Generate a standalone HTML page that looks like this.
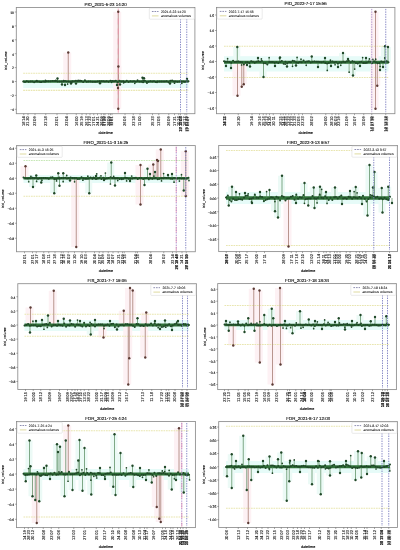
<!DOCTYPE html><html><head><meta charset="utf-8"><style>html,body{margin:0;padding:0;background:#fff;}svg{display:block;will-change:transform;filter:blur(0.3px);}text{text-rendering:geometricPrecision;}</style></head><body>
<svg width="400" height="550" viewBox="0 0 400 550" font-family='"Liberation Sans", sans-serif'>
<rect width="400" height="550" fill="#fff"/>
<g><rect x="23.2" y="80" width="165.3" height="8" fill="#e6fbf8"/><rect x="63.25" y="52.5" width="8" height="29" fill="#fdf1f4"/><rect x="113.25" y="11.75" width="8" height="69.75" fill="#fdf1f4"/><rect x="113.25" y="81.5" width="8" height="27.25" fill="#fdf1f4"/><rect x="113.4" y="66.5" width="8" height="15" fill="#fdf1f4"/><rect x="113" y="81.5" width="8" height="6.5" fill="#fdf1f4"/><line x1="23.2" y1="73.2" x2="188.5" y2="73.2" stroke="#e9e6b0" stroke-width="1.1" stroke-dasharray="1.7,0.8"/><line x1="23.2" y1="90.4" x2="188.5" y2="90.4" stroke="#e9e6b0" stroke-width="1.1" stroke-dasharray="1.7,0.8"/><line x1="68.25" y1="81.5" x2="68.25" y2="52.5" stroke="#b08a82" stroke-width="0.9"/><line x1="118.25" y1="81.5" x2="118.25" y2="11.75" stroke="#b08a82" stroke-width="0.9"/><line x1="118.25" y1="81.5" x2="118.25" y2="108.75" stroke="#b08a82" stroke-width="0.9"/><line x1="118.4" y1="81.5" x2="118.4" y2="66.5" stroke="#b08a82" stroke-width="0.9"/><line x1="118" y1="81.5" x2="118" y2="88" stroke="#b08a82" stroke-width="0.9"/><line x1="57.5" y1="81.5" x2="57.5" y2="78.5" stroke="#4f8456" stroke-width="0.7"/><line x1="142.5" y1="81.5" x2="142.5" y2="77.8" stroke="#4f8456" stroke-width="0.7"/><line x1="144" y1="81.5" x2="144" y2="78.2" stroke="#4f8456" stroke-width="0.7"/><line x1="62" y1="81.5" x2="62" y2="84.5" stroke="#4f8456" stroke-width="0.7"/><line x1="65" y1="81.5" x2="65" y2="85" stroke="#4f8456" stroke-width="0.7"/><line x1="71" y1="81.5" x2="71" y2="83.5" stroke="#4f8456" stroke-width="0.7"/><line x1="76" y1="81.5" x2="76" y2="83.6" stroke="#4f8456" stroke-width="0.7"/><line x1="100" y1="81.5" x2="100" y2="83.3" stroke="#4f8456" stroke-width="0.7"/><line x1="117" y1="81.5" x2="117" y2="85" stroke="#4f8456" stroke-width="0.7"/><line x1="120" y1="81.5" x2="120" y2="84.5" stroke="#4f8456" stroke-width="0.7"/><line x1="170" y1="81.5" x2="170" y2="83.5" stroke="#4f8456" stroke-width="0.7"/><line x1="187" y1="81.5" x2="187" y2="79" stroke="#4f8456" stroke-width="0.7"/><line x1="118.25" y1="8.5" x2="118.25" y2="112.7" stroke="#f58aa8" stroke-width="0.7" stroke-dasharray="6,4"/><line x1="23.2" y1="81.5" x2="188.5" y2="81.5" stroke="#2f7138" stroke-width="2.4"/><polyline fill="none" stroke="#2f7138" stroke-width="0.9" stroke-linejoin="round" points="23.2,81.53 25.02,81.94 26.83,81.17 28.65,81.85 30.47,81.41 32.28,81.41 34.1,82.16 35.92,81.56 37.73,81.48 39.55,81.76 41.36,81.89 43.18,81.49 45,81.71 46.81,81.16 48.63,81.37 50.45,81.35 52.26,81.03 54.08,80.97 55.9,80.93 57.71,81.42 59.53,81.44 61.35,81.39 63.16,81.52 64.98,81.03 66.8,81.47 68.61,81.58 70.43,81.76 72.25,81.2 74.06,81.36 75.88,80.79 77.69,81.32 79.51,80.73 81.33,81 83.14,81.89 84.96,80.73 86.78,81.78 88.59,81.61 90.41,81.39 92.23,81.66 94.04,81.68 95.86,81.87 97.68,81.42 99.49,81.29 101.31,81.29 103.13,81.15 104.94,81.48 106.76,81.22 108.57,81.87 110.39,80.85 112.21,81.12 114.02,81.17 115.84,80.77 117.66,82.17 119.47,80.66 121.29,81.4 123.11,81.32 124.92,82.08 126.74,80.81 128.56,81.88 130.37,81.24 132.19,81.45 134.01,81.27 135.82,81.72 137.64,81.1 139.45,81.47 141.27,81.62 143.09,82.14 144.9,80.66 146.72,82.03 148.54,81.83 150.35,81.33 152.17,81.61 153.99,81.34 155.8,82.08 157.62,81.57 159.44,81.42 161.25,81.42 163.07,81.43 164.89,81.44 166.7,81.19 168.52,82.22 170.34,80.83 172.15,80.59 173.97,81.46 175.78,81.45 177.6,81.63 179.42,81.43 181.23,81.45 183.05,81.62 184.87,81.84 186.68,81.34 188.5,81.37"/><path d="M36.79 81.5V80.7M40.87 81.5V82.27M45.45 81.5V80.44M55.69 81.5V80.44M63.52 81.5V80.63M67.61 81.5V84.12M71.8 81.5V82.53M78.2 81.5V80.44M80.44 81.5V80.56M84.95 81.5V80.03M111.58 81.5V82.36M123.66 81.5V82.78M134.79 81.5V83.28M137.54 81.5V80.08M143.24 81.5V80.55M146.99 81.5V83.14M157.01 81.5V82.29M174.51 81.5V83.19M181.81 81.5V83.29" stroke="#4f8456" stroke-width="0.6" fill="none"/><g fill="#1f4727"><circle cx="23.2" cy="81.53" r="1"/><circle cx="25.02" cy="81.94" r="1"/><circle cx="26.83" cy="81.17" r="1"/><circle cx="28.65" cy="81.85" r="1"/><circle cx="30.47" cy="81.41" r="1"/><circle cx="32.28" cy="81.41" r="1"/><circle cx="34.1" cy="82.16" r="1"/><circle cx="35.92" cy="81.56" r="1"/><circle cx="37.73" cy="81.48" r="1"/><circle cx="39.55" cy="81.76" r="1"/><circle cx="41.36" cy="81.89" r="1"/><circle cx="43.18" cy="81.49" r="1"/><circle cx="45" cy="81.71" r="1"/><circle cx="46.81" cy="81.16" r="1"/><circle cx="48.63" cy="81.37" r="1"/><circle cx="50.45" cy="81.35" r="1"/><circle cx="52.26" cy="81.03" r="1"/><circle cx="54.08" cy="80.97" r="1"/><circle cx="55.9" cy="80.93" r="1"/><circle cx="57.71" cy="81.42" r="1"/><circle cx="59.53" cy="81.44" r="1"/><circle cx="61.35" cy="81.39" r="1"/><circle cx="63.16" cy="81.52" r="1"/><circle cx="64.98" cy="81.03" r="1"/><circle cx="66.8" cy="81.47" r="1"/><circle cx="68.61" cy="81.58" r="1"/><circle cx="70.43" cy="81.76" r="1"/><circle cx="72.25" cy="81.2" r="1"/><circle cx="74.06" cy="81.36" r="1"/><circle cx="75.88" cy="80.79" r="1"/><circle cx="77.69" cy="81.32" r="1"/><circle cx="79.51" cy="80.73" r="1"/><circle cx="81.33" cy="81" r="1"/><circle cx="83.14" cy="81.89" r="1"/><circle cx="84.96" cy="80.73" r="1"/><circle cx="86.78" cy="81.78" r="1"/><circle cx="88.59" cy="81.61" r="1"/><circle cx="90.41" cy="81.39" r="1"/><circle cx="92.23" cy="81.66" r="1"/><circle cx="94.04" cy="81.68" r="1"/><circle cx="95.86" cy="81.87" r="1"/><circle cx="97.68" cy="81.42" r="1"/><circle cx="99.49" cy="81.29" r="1"/><circle cx="101.31" cy="81.29" r="1"/><circle cx="103.13" cy="81.15" r="1"/><circle cx="104.94" cy="81.48" r="1"/><circle cx="106.76" cy="81.22" r="1"/><circle cx="108.57" cy="81.87" r="1"/><circle cx="110.39" cy="80.85" r="1"/><circle cx="112.21" cy="81.12" r="1"/><circle cx="114.02" cy="81.17" r="1"/><circle cx="115.84" cy="80.77" r="1"/><circle cx="117.66" cy="82.17" r="1"/><circle cx="119.47" cy="80.66" r="1"/><circle cx="121.29" cy="81.4" r="1"/><circle cx="123.11" cy="81.32" r="1"/><circle cx="124.92" cy="82.08" r="1"/><circle cx="126.74" cy="80.81" r="1"/><circle cx="128.56" cy="81.88" r="1"/><circle cx="130.37" cy="81.24" r="1"/><circle cx="132.19" cy="81.45" r="1"/><circle cx="134.01" cy="81.27" r="1"/><circle cx="135.82" cy="81.72" r="1"/><circle cx="137.64" cy="81.1" r="1"/><circle cx="139.45" cy="81.47" r="1"/><circle cx="141.27" cy="81.62" r="1"/><circle cx="143.09" cy="82.14" r="1"/><circle cx="144.9" cy="80.66" r="1"/><circle cx="146.72" cy="82.03" r="1"/><circle cx="148.54" cy="81.83" r="1"/><circle cx="150.35" cy="81.33" r="1"/><circle cx="152.17" cy="81.61" r="1"/><circle cx="153.99" cy="81.34" r="1"/><circle cx="155.8" cy="82.08" r="1"/><circle cx="157.62" cy="81.57" r="1"/><circle cx="159.44" cy="81.42" r="1"/><circle cx="161.25" cy="81.42" r="1"/><circle cx="163.07" cy="81.43" r="1"/><circle cx="164.89" cy="81.44" r="1"/><circle cx="166.7" cy="81.19" r="1"/><circle cx="168.52" cy="82.22" r="1"/><circle cx="170.34" cy="80.83" r="1"/><circle cx="172.15" cy="80.59" r="1"/><circle cx="173.97" cy="81.46" r="1"/><circle cx="175.78" cy="81.45" r="1"/><circle cx="177.6" cy="81.63" r="1"/><circle cx="179.42" cy="81.43" r="1"/><circle cx="181.23" cy="81.45" r="1"/><circle cx="183.05" cy="81.62" r="1"/><circle cx="184.87" cy="81.84" r="1"/><circle cx="186.68" cy="81.34" r="1"/><circle cx="188.5" cy="81.37" r="1"/><circle cx="36.79" cy="80.7" r="0.85"/><circle cx="40.87" cy="82.27" r="0.85"/><circle cx="45.45" cy="80.44" r="0.85"/><circle cx="55.69" cy="80.44" r="0.85"/><circle cx="63.52" cy="80.63" r="0.85"/><circle cx="67.61" cy="84.12" r="0.85"/><circle cx="71.8" cy="82.53" r="0.85"/><circle cx="78.2" cy="80.44" r="0.85"/><circle cx="80.44" cy="80.56" r="0.85"/><circle cx="84.95" cy="80.03" r="0.85"/><circle cx="111.58" cy="82.36" r="0.85"/><circle cx="123.66" cy="82.78" r="0.85"/><circle cx="134.79" cy="83.28" r="0.85"/><circle cx="137.54" cy="80.08" r="0.85"/><circle cx="143.24" cy="80.55" r="0.85"/><circle cx="146.99" cy="83.14" r="0.85"/><circle cx="157.01" cy="82.29" r="0.85"/><circle cx="174.51" cy="83.19" r="0.85"/><circle cx="181.81" cy="83.29" r="0.85"/></g><circle cx="68.25" cy="52.5" r="1.2" fill="#5b3a34"/><circle cx="118.25" cy="11.75" r="1.2" fill="#5b3a34"/><circle cx="118.25" cy="108.75" r="1.2" fill="#5b3a34"/><circle cx="118.4" cy="66.5" r="1.2" fill="#5b3a34"/><circle cx="118" cy="88" r="1.2" fill="#5b3a34"/><circle cx="57.5" cy="78.5" r="1.2" fill="#1f4727"/><circle cx="142.5" cy="77.8" r="1.2" fill="#1f4727"/><circle cx="144" cy="78.2" r="1.2" fill="#1f4727"/><circle cx="62" cy="84.5" r="1.2" fill="#1f4727"/><circle cx="65" cy="85" r="1.2" fill="#1f4727"/><circle cx="71" cy="83.5" r="1.2" fill="#1f4727"/><circle cx="76" cy="83.6" r="1.2" fill="#1f4727"/><circle cx="100" cy="83.3" r="1.2" fill="#1f4727"/><circle cx="117" cy="85" r="1.2" fill="#1f4727"/><circle cx="120" cy="84.5" r="1.2" fill="#1f4727"/><circle cx="170" cy="83.5" r="1.2" fill="#1f4727"/><circle cx="187" cy="79" r="1.2" fill="#1f4727"/><line x1="180.5" y1="9" x2="180.5" y2="112.2" stroke="#7a7dc0" stroke-width="0.9" stroke-dasharray="1.4,1.1"/><line x1="186.75" y1="9" x2="186.75" y2="112.2" stroke="#7a7dc0" stroke-width="0.9" stroke-dasharray="1.4,1.1"/><rect x="16.3" y="7.5" width="178.6" height="106.2" fill="none" stroke="#8c8c8c" stroke-width="0.85"/><line x1="14.8" y1="12" x2="16.3" y2="12" stroke="#555" stroke-width="0.5"/><text x="14" y="13.8" font-size="3.4" text-anchor="end" fill="#000" stroke="#000" stroke-width="0.12">10</text><line x1="14.8" y1="25.9" x2="16.3" y2="25.9" stroke="#555" stroke-width="0.5"/><text x="14" y="27.7" font-size="3.4" text-anchor="end" fill="#000" stroke="#000" stroke-width="0.12">8</text><line x1="14.8" y1="39.8" x2="16.3" y2="39.8" stroke="#555" stroke-width="0.5"/><text x="14" y="41.6" font-size="3.4" text-anchor="end" fill="#000" stroke="#000" stroke-width="0.12">6</text><line x1="14.8" y1="53.7" x2="16.3" y2="53.7" stroke="#555" stroke-width="0.5"/><text x="14" y="55.5" font-size="3.4" text-anchor="end" fill="#000" stroke="#000" stroke-width="0.12">4</text><line x1="14.8" y1="67.6" x2="16.3" y2="67.6" stroke="#555" stroke-width="0.5"/><text x="14" y="69.4" font-size="3.4" text-anchor="end" fill="#000" stroke="#000" stroke-width="0.12">2</text><line x1="14.8" y1="81.5" x2="16.3" y2="81.5" stroke="#555" stroke-width="0.5"/><text x="14" y="83.3" font-size="3.4" text-anchor="end" fill="#000" stroke="#000" stroke-width="0.12">0</text><line x1="14.8" y1="95.4" x2="16.3" y2="95.4" stroke="#555" stroke-width="0.5"/><text x="14" y="97.2" font-size="3.4" text-anchor="end" fill="#000" stroke="#000" stroke-width="0.12">−2</text><line x1="14.8" y1="109.3" x2="16.3" y2="109.3" stroke="#555" stroke-width="0.5"/><text x="14" y="111.1" font-size="3.4" text-anchor="end" fill="#000" stroke="#000" stroke-width="0.12">−4</text><text transform="translate(7.4,60.6) rotate(-90)" font-size="3.6" text-anchor="middle" fill="#000" stroke="#000" stroke-width="0.12">bid_volume</text><text x="105.6" y="5.5" font-size="4.4" text-anchor="middle" fill="#000" stroke="#000" stroke-width="0.1">PIO_2021-6-23 14:20</text><rect x="149.3" y="8.2" width="45" height="11" rx="0.8" fill="#fff" stroke="#d4d4d4" stroke-width="0.5"/><line x1="151.9" y1="11.5" x2="158.5" y2="11.5" stroke="#6a6a98" stroke-width="0.75" stroke-dasharray="1.7,0.9"/><line x1="151.9" y1="15.9" x2="158.5" y2="15.9" stroke="#d6d088" stroke-width="0.8"/><text x="160.9" y="12.6" font-size="3.4" fill="#000" stroke="#000" stroke-width="0.05">2021-6-23 14:20</text><text x="160.9" y="17" font-size="3.4" fill="#000" stroke="#000" stroke-width="0.05">anomalous volumes</text><path d="M23.75 113.7v1.5M28 113.7v1.5M35 113.7v1.5M45.75 113.7v1.5M57 113.7v1.5M67 113.7v1.5M76.25 113.7v1.5M82 113.7v1.5M86.25 113.7v1.5M90 113.7v1.5M93.75 113.7v1.5M97.5 113.7v1.5M101.25 113.7v1.5M103.75 113.7v1.5M105 113.7v1.5M108.75 113.7v1.5M110.5 113.7v1.5M112 113.7v1.5M125 113.7v1.5M133.25 113.7v1.5M140 113.7v1.5M152.5 113.7v1.5M158.75 113.7v1.5M168.75 113.7v1.5M174.5 113.7v1.5M178.75 113.7v1.5M180.5 113.7v1.5M185 113.7v1.5M186.75 113.7v1.5" stroke="#555" stroke-width="0.5"/><g font-size="4.1" fill="#222" stroke="#222" stroke-width="0.12"><text transform="translate(25.2,116.3) rotate(-90) scale(0.95,1)" text-anchor="end">18 14</text><text transform="translate(29.45,116.3) rotate(-90) scale(0.95,1)" text-anchor="end">21 20</text><text transform="translate(36.45,116.3) rotate(-90) scale(0.95,1)" text-anchor="end">23 09</text><text transform="translate(47.2,116.3) rotate(-90) scale(0.95,1)" text-anchor="end">23 18</text><text transform="translate(58.45,116.3) rotate(-90) scale(0.95,1)" text-anchor="end">23 01</text><text transform="translate(68.45,116.3) rotate(-90) scale(0.95,1)" text-anchor="end">23 04</text><text transform="translate(77.7,116.3) rotate(-90) scale(0.95,1)" text-anchor="end">16 00</text><text transform="translate(83.45,116.3) rotate(-90) scale(0.95,1)" text-anchor="end">25 19</text><text transform="translate(87.7,116.3) rotate(-90) scale(0.95,1)" text-anchor="end">26 13</text><text transform="translate(91.45,116.3) rotate(-90) scale(0.95,1)" text-anchor="end">27 22</text><text transform="translate(95.2,116.3) rotate(-90) scale(0.95,1)" text-anchor="end">17 01</text><text transform="translate(98.95,116.3) rotate(-90) scale(0.95,1)" text-anchor="end">24 21</text><text transform="translate(102.7,116.3) rotate(-90) scale(0.95,1)" text-anchor="end">26 09</text><text transform="translate(105.2,116.3) rotate(-90) scale(0.95,1)" text-anchor="end">27 10</text><text transform="translate(106.45,116.3) rotate(-90) scale(0.95,1)" text-anchor="end">17 02</text><text transform="translate(110.2,116.3) rotate(-90) scale(0.95,1)" text-anchor="end">28 09</text><text transform="translate(111.95,116.3) rotate(-90) scale(0.95,1)" text-anchor="end">13 07</text><text transform="translate(113.45,116.3) rotate(-90) scale(0.95,1)" text-anchor="end">11 01</text><text transform="translate(126.45,116.3) rotate(-90) scale(0.95,1)" text-anchor="end">26 06</text><text transform="translate(134.7,116.3) rotate(-90) scale(0.95,1)" text-anchor="end">23 18</text><text transform="translate(141.45,116.3) rotate(-90) scale(0.95,1)" text-anchor="end">11 00</text><text transform="translate(153.95,116.3) rotate(-90) scale(0.95,1)" text-anchor="end">25 23</text><text transform="translate(160.2,116.3) rotate(-90) scale(0.95,1)" text-anchor="end">13 05</text><text transform="translate(170.2,116.3) rotate(-90) scale(0.95,1)" text-anchor="end">26 09</text><text transform="translate(175.95,116.3) rotate(-90) scale(0.95,1)" text-anchor="end">17 21</text><text transform="translate(180.2,116.3) rotate(-90) scale(0.95,1)" text-anchor="end">10 16</text><text transform="translate(182.3,116.3) rotate(-90) scale(0.95,1)" text-anchor="end">13 10 08</text><text transform="translate(181.95,116.3) rotate(-90) scale(0.95,1)" text-anchor="end">27 13 03</text><text transform="translate(186.45,116.3) rotate(-90) scale(0.95,1)" text-anchor="end">18 17</text><text transform="translate(188.55,116.3) rotate(-90) scale(0.95,1)" text-anchor="end">17 06 07</text><text transform="translate(188.2,116.3) rotate(-90) scale(0.95,1)" text-anchor="end">25 01 22</text></g><text x="105.6" y="134.3" font-size="3.75" text-anchor="middle" fill="#000" stroke="#000" stroke-width="0.12">datetime</text></g>
<g><rect x="224" y="56.2" width="164.5" height="15.3" fill="#e6fbf8"/><rect x="233.3" y="47" width="7" height="14.5" fill="#ecfaf6"/><rect x="259.5" y="61.5" width="7" height="15.5" fill="#ecfaf6"/><rect x="349" y="61.5" width="7" height="14" fill="#ecfaf6"/><rect x="339" y="53" width="7" height="8.5" fill="#ecfaf6"/><rect x="381" y="46.25" width="7" height="15.25" fill="#ecfaf6"/><rect x="376" y="61.5" width="7" height="8.5" fill="#ecfaf6"/><rect x="384" y="47" width="7" height="14.5" fill="#ecfaf6"/><rect x="232.5" y="61.5" width="8" height="34.25" fill="#fdf1f4"/><rect x="236.75" y="61.5" width="8" height="25.25" fill="#fdf1f4"/><rect x="238.75" y="61.5" width="8" height="22.75" fill="#fdf1f4"/><rect x="370.5" y="11.75" width="8" height="49.75" fill="#fdf1f4"/><rect x="370.5" y="61.5" width="8" height="47.25" fill="#fdf1f4"/><rect x="372.25" y="61.5" width="8" height="24.25" fill="#fdf1f4"/><line x1="224" y1="46.25" x2="388.5" y2="46.25" stroke="#e9e6b0" stroke-width="1.1" stroke-dasharray="1.7,0.8"/><line x1="224" y1="77.5" x2="388.5" y2="77.5" stroke="#e9e6b0" stroke-width="1.1" stroke-dasharray="1.7,0.8"/><line x1="237.5" y1="61.5" x2="237.5" y2="95.75" stroke="#b08a82" stroke-width="0.9"/><line x1="241.75" y1="61.5" x2="241.75" y2="86.75" stroke="#b08a82" stroke-width="0.9"/><line x1="243.75" y1="61.5" x2="243.75" y2="84.25" stroke="#b08a82" stroke-width="0.9"/><line x1="237.3" y1="61.5" x2="237.3" y2="47" stroke="#4f8456" stroke-width="0.7"/><line x1="263.5" y1="61.5" x2="263.5" y2="77" stroke="#4f8456" stroke-width="0.7"/><line x1="375.5" y1="61.5" x2="375.5" y2="11.75" stroke="#b08a82" stroke-width="0.9"/><line x1="375.5" y1="61.5" x2="375.5" y2="108.75" stroke="#b08a82" stroke-width="0.9"/><line x1="377.25" y1="61.5" x2="377.25" y2="85.75" stroke="#b08a82" stroke-width="0.9"/><line x1="353" y1="61.5" x2="353" y2="75.5" stroke="#4f8456" stroke-width="0.7"/><line x1="343" y1="61.5" x2="343" y2="53" stroke="#4f8456" stroke-width="0.7"/><line x1="311.75" y1="61.5" x2="311.75" y2="56.5" stroke="#4f8456" stroke-width="0.7"/><line x1="385" y1="61.5" x2="385" y2="46.25" stroke="#4f8456" stroke-width="0.7"/><line x1="226" y1="61.5" x2="226" y2="66" stroke="#4f8456" stroke-width="0.7"/><line x1="231" y1="61.5" x2="231" y2="68" stroke="#4f8456" stroke-width="0.7"/><line x1="247" y1="61.5" x2="247" y2="65" stroke="#4f8456" stroke-width="0.7"/><line x1="250" y1="61.5" x2="250" y2="66.5" stroke="#4f8456" stroke-width="0.7"/><line x1="258" y1="61.5" x2="258" y2="58" stroke="#4f8456" stroke-width="0.7"/><line x1="275" y1="61.5" x2="275" y2="66" stroke="#4f8456" stroke-width="0.7"/><line x1="280" y1="61.5" x2="280" y2="57.5" stroke="#4f8456" stroke-width="0.7"/><line x1="287" y1="61.5" x2="287" y2="66.5" stroke="#4f8456" stroke-width="0.7"/><line x1="296" y1="61.5" x2="296" y2="65.5" stroke="#4f8456" stroke-width="0.7"/><line x1="318" y1="61.5" x2="318" y2="67" stroke="#4f8456" stroke-width="0.7"/><line x1="325" y1="61.5" x2="325" y2="58" stroke="#4f8456" stroke-width="0.7"/><line x1="331" y1="61.5" x2="331" y2="66" stroke="#4f8456" stroke-width="0.7"/><line x1="338" y1="61.5" x2="338" y2="67" stroke="#4f8456" stroke-width="0.7"/><line x1="348" y1="61.5" x2="348" y2="59" stroke="#4f8456" stroke-width="0.7"/><line x1="360" y1="61.5" x2="360" y2="66" stroke="#4f8456" stroke-width="0.7"/><line x1="366" y1="61.5" x2="366" y2="58" stroke="#4f8456" stroke-width="0.7"/><line x1="380" y1="61.5" x2="380" y2="70" stroke="#4f8456" stroke-width="0.7"/><line x1="383" y1="61.5" x2="383" y2="67" stroke="#4f8456" stroke-width="0.7"/><line x1="388" y1="61.5" x2="388" y2="47" stroke="#4f8456" stroke-width="0.7"/><line x1="224" y1="62.2" x2="388.5" y2="62.2" stroke="#2f7138" stroke-width="3"/><polyline fill="none" stroke="#2f7138" stroke-width="0.9" stroke-linejoin="round" points="224,61.34 225.81,61.79 227.62,61.66 229.42,61.91 231.23,62.85 233.04,60.65 234.85,61.9 236.65,61.76 238.46,61.4 240.27,62.1 242.08,62.2 243.88,64.42 245.69,62.47 247.5,62.19 249.31,62.98 251.12,61.26 252.92,61.66 254.73,62.7 256.54,61.75 258.35,61.31 260.15,61.68 261.96,60.98 263.77,63.23 265.58,63.34 267.38,64.54 269.19,61.94 271,61.99 272.81,62.02 274.62,62.68 276.42,62.21 278.23,62.91 280.04,61.92 281.85,60.92 283.65,63.63 285.46,61.75 287.27,63.24 289.08,61.9 290.88,62.33 292.69,60.7 294.5,61.32 296.31,62.56 298.12,62.73 299.92,61.99 301.73,62.33 303.54,60.54 305.35,62.24 307.15,61.59 308.96,61.27 310.77,62.51 312.58,61.8 314.38,61.41 316.19,61.84 318,61.85 319.81,61.94 321.62,62.26 323.42,61.8 325.23,63.02 327.04,63.61 328.85,63.11 330.65,61.89 332.46,61.62 334.27,62.55 336.08,62.01 337.88,63.43 339.69,62.4 341.5,62.61 343.31,61.68 345.12,62.35 346.92,61.21 348.73,60.86 350.54,62.38 352.35,61.19 354.15,61.65 355.96,62.99 357.77,63.62 359.58,62.24 361.38,61.81 363.19,62.89 365,63.06 366.81,62.67 368.62,61.42 370.42,61.75 372.23,63.12 374.04,61.22 375.85,62.26 377.65,63.3 379.46,63.12 381.27,61.62 383.08,61.94 384.88,62.01 386.69,61.2 388.5,62.27"/><path d="M227.6 62.2V58.71M241.59 62.2V64.99M261.39 62.2V58.89M269.14 62.2V57.64M279.52 62.2V58.35M285.16 62.2V64.21M292.52 62.2V66.36M297.09 62.2V57.41M301.01 62.2V59.22M306.24 62.2V65.32M327.26 62.2V70.43M330.41 62.2V60.22M335.09 62.2V64.75M340.76 62.2V65.33M349.14 62.2V72.15M354.69 62.2V69.05M362.64 62.2V57.58M369.39 62.2V58.92M372.85 62.2V59.26M375.69 62.2V59.18M380.13 62.2V66.49M384.74 62.2V57.9" stroke="#4f8456" stroke-width="0.6" fill="none"/><g fill="#1f4727"><circle cx="224" cy="61.34" r="1"/><circle cx="225.81" cy="61.79" r="1"/><circle cx="227.62" cy="61.66" r="1"/><circle cx="229.42" cy="61.91" r="1"/><circle cx="231.23" cy="62.85" r="1"/><circle cx="233.04" cy="60.65" r="1"/><circle cx="234.85" cy="61.9" r="1"/><circle cx="236.65" cy="61.76" r="1"/><circle cx="238.46" cy="61.4" r="1"/><circle cx="240.27" cy="62.1" r="1"/><circle cx="242.08" cy="62.2" r="1"/><circle cx="243.88" cy="64.42" r="1"/><circle cx="245.69" cy="62.47" r="1"/><circle cx="247.5" cy="62.19" r="1"/><circle cx="249.31" cy="62.98" r="1"/><circle cx="251.12" cy="61.26" r="1"/><circle cx="252.92" cy="61.66" r="1"/><circle cx="254.73" cy="62.7" r="1"/><circle cx="256.54" cy="61.75" r="1"/><circle cx="258.35" cy="61.31" r="1"/><circle cx="260.15" cy="61.68" r="1"/><circle cx="261.96" cy="60.98" r="1"/><circle cx="263.77" cy="63.23" r="1"/><circle cx="265.58" cy="63.34" r="1"/><circle cx="267.38" cy="64.54" r="1"/><circle cx="269.19" cy="61.94" r="1"/><circle cx="271" cy="61.99" r="1"/><circle cx="272.81" cy="62.02" r="1"/><circle cx="274.62" cy="62.68" r="1"/><circle cx="276.42" cy="62.21" r="1"/><circle cx="278.23" cy="62.91" r="1"/><circle cx="280.04" cy="61.92" r="1"/><circle cx="281.85" cy="60.92" r="1"/><circle cx="283.65" cy="63.63" r="1"/><circle cx="285.46" cy="61.75" r="1"/><circle cx="287.27" cy="63.24" r="1"/><circle cx="289.08" cy="61.9" r="1"/><circle cx="290.88" cy="62.33" r="1"/><circle cx="292.69" cy="60.7" r="1"/><circle cx="294.5" cy="61.32" r="1"/><circle cx="296.31" cy="62.56" r="1"/><circle cx="298.12" cy="62.73" r="1"/><circle cx="299.92" cy="61.99" r="1"/><circle cx="301.73" cy="62.33" r="1"/><circle cx="303.54" cy="60.54" r="1"/><circle cx="305.35" cy="62.24" r="1"/><circle cx="307.15" cy="61.59" r="1"/><circle cx="308.96" cy="61.27" r="1"/><circle cx="310.77" cy="62.51" r="1"/><circle cx="312.58" cy="61.8" r="1"/><circle cx="314.38" cy="61.41" r="1"/><circle cx="316.19" cy="61.84" r="1"/><circle cx="318" cy="61.85" r="1"/><circle cx="319.81" cy="61.94" r="1"/><circle cx="321.62" cy="62.26" r="1"/><circle cx="323.42" cy="61.8" r="1"/><circle cx="325.23" cy="63.02" r="1"/><circle cx="327.04" cy="63.61" r="1"/><circle cx="328.85" cy="63.11" r="1"/><circle cx="330.65" cy="61.89" r="1"/><circle cx="332.46" cy="61.62" r="1"/><circle cx="334.27" cy="62.55" r="1"/><circle cx="336.08" cy="62.01" r="1"/><circle cx="337.88" cy="63.43" r="1"/><circle cx="339.69" cy="62.4" r="1"/><circle cx="341.5" cy="62.61" r="1"/><circle cx="343.31" cy="61.68" r="1"/><circle cx="345.12" cy="62.35" r="1"/><circle cx="346.92" cy="61.21" r="1"/><circle cx="348.73" cy="60.86" r="1"/><circle cx="350.54" cy="62.38" r="1"/><circle cx="352.35" cy="61.19" r="1"/><circle cx="354.15" cy="61.65" r="1"/><circle cx="355.96" cy="62.99" r="1"/><circle cx="357.77" cy="63.62" r="1"/><circle cx="359.58" cy="62.24" r="1"/><circle cx="361.38" cy="61.81" r="1"/><circle cx="363.19" cy="62.89" r="1"/><circle cx="365" cy="63.06" r="1"/><circle cx="366.81" cy="62.67" r="1"/><circle cx="368.62" cy="61.42" r="1"/><circle cx="370.42" cy="61.75" r="1"/><circle cx="372.23" cy="63.12" r="1"/><circle cx="374.04" cy="61.22" r="1"/><circle cx="375.85" cy="62.26" r="1"/><circle cx="377.65" cy="63.3" r="1"/><circle cx="379.46" cy="63.12" r="1"/><circle cx="381.27" cy="61.62" r="1"/><circle cx="383.08" cy="61.94" r="1"/><circle cx="384.88" cy="62.01" r="1"/><circle cx="386.69" cy="61.2" r="1"/><circle cx="388.5" cy="62.27" r="1"/><circle cx="227.6" cy="58.71" r="0.85"/><circle cx="241.59" cy="64.99" r="0.85"/><circle cx="261.39" cy="58.89" r="0.85"/><circle cx="269.14" cy="57.64" r="0.85"/><circle cx="279.52" cy="58.35" r="0.85"/><circle cx="285.16" cy="64.21" r="0.85"/><circle cx="292.52" cy="66.36" r="0.85"/><circle cx="297.09" cy="57.41" r="0.85"/><circle cx="301.01" cy="59.22" r="0.85"/><circle cx="306.24" cy="65.32" r="0.85"/><circle cx="327.26" cy="70.43" r="0.85"/><circle cx="330.41" cy="60.22" r="0.85"/><circle cx="335.09" cy="64.75" r="0.85"/><circle cx="340.76" cy="65.33" r="0.85"/><circle cx="349.14" cy="72.15" r="0.85"/><circle cx="354.69" cy="69.05" r="0.85"/><circle cx="362.64" cy="57.58" r="0.85"/><circle cx="369.39" cy="58.92" r="0.85"/><circle cx="372.85" cy="59.26" r="0.85"/><circle cx="375.69" cy="59.18" r="0.85"/><circle cx="380.13" cy="66.49" r="0.85"/><circle cx="384.74" cy="57.9" r="0.85"/></g><circle cx="237.5" cy="95.75" r="1.2" fill="#5b3a34"/><circle cx="241.75" cy="86.75" r="1.2" fill="#5b3a34"/><circle cx="243.75" cy="84.25" r="1.2" fill="#5b3a34"/><circle cx="237.3" cy="47" r="1.2" fill="#1f4727"/><circle cx="263.5" cy="77" r="1.2" fill="#1f4727"/><circle cx="375.5" cy="11.75" r="1.2" fill="#5b3a34"/><circle cx="375.5" cy="108.75" r="1.2" fill="#5b3a34"/><circle cx="377.25" cy="85.75" r="1.2" fill="#5b3a34"/><circle cx="353" cy="75.5" r="1.2" fill="#1f4727"/><circle cx="343" cy="53" r="1.2" fill="#1f4727"/><circle cx="311.75" cy="56.5" r="1.2" fill="#1f4727"/><circle cx="385" cy="46.25" r="1.2" fill="#1f4727"/><circle cx="226" cy="66" r="1.2" fill="#1f4727"/><circle cx="231" cy="68" r="1.2" fill="#1f4727"/><circle cx="247" cy="65" r="1.2" fill="#1f4727"/><circle cx="250" cy="66.5" r="1.2" fill="#1f4727"/><circle cx="258" cy="58" r="1.2" fill="#1f4727"/><circle cx="275" cy="66" r="1.2" fill="#1f4727"/><circle cx="280" cy="57.5" r="1.2" fill="#1f4727"/><circle cx="287" cy="66.5" r="1.2" fill="#1f4727"/><circle cx="296" cy="65.5" r="1.2" fill="#1f4727"/><circle cx="318" cy="67" r="1.2" fill="#1f4727"/><circle cx="325" cy="58" r="1.2" fill="#1f4727"/><circle cx="331" cy="66" r="1.2" fill="#1f4727"/><circle cx="338" cy="67" r="1.2" fill="#1f4727"/><circle cx="348" cy="59" r="1.2" fill="#1f4727"/><circle cx="360" cy="66" r="1.2" fill="#1f4727"/><circle cx="366" cy="58" r="1.2" fill="#1f4727"/><circle cx="380" cy="70" r="1.2" fill="#1f4727"/><circle cx="383" cy="67" r="1.2" fill="#1f4727"/><circle cx="388" cy="47" r="1.2" fill="#1f4727"/><line x1="371.75" y1="8.9" x2="371.75" y2="112.2" stroke="#a88ac8" stroke-width="0.9" stroke-dasharray="1.4,1.1"/><line x1="385.75" y1="8.9" x2="385.75" y2="112.2" stroke="#7a7dc0" stroke-width="0.9" stroke-dasharray="1.4,1.1"/><rect x="216.45" y="7.4" width="178.45" height="106.3" fill="none" stroke="#8c8c8c" stroke-width="0.85"/><line x1="214.95" y1="15" x2="216.45" y2="15" stroke="#555" stroke-width="0.5"/><text x="214.15" y="16.8" font-size="3.4" text-anchor="end" fill="#000" stroke="#000" stroke-width="0.12">1.5</text><line x1="214.95" y1="30.5" x2="216.45" y2="30.5" stroke="#555" stroke-width="0.5"/><text x="214.15" y="32.3" font-size="3.4" text-anchor="end" fill="#000" stroke="#000" stroke-width="0.12">1.0</text><line x1="214.95" y1="46" x2="216.45" y2="46" stroke="#555" stroke-width="0.5"/><text x="214.15" y="47.8" font-size="3.4" text-anchor="end" fill="#000" stroke="#000" stroke-width="0.12">0.5</text><line x1="214.95" y1="61.5" x2="216.45" y2="61.5" stroke="#555" stroke-width="0.5"/><text x="214.15" y="63.3" font-size="3.4" text-anchor="end" fill="#000" stroke="#000" stroke-width="0.12">0.0</text><line x1="214.95" y1="77" x2="216.45" y2="77" stroke="#555" stroke-width="0.5"/><text x="214.15" y="78.8" font-size="3.4" text-anchor="end" fill="#000" stroke="#000" stroke-width="0.12">−0.5</text><line x1="214.95" y1="92.5" x2="216.45" y2="92.5" stroke="#555" stroke-width="0.5"/><text x="214.15" y="94.3" font-size="3.4" text-anchor="end" fill="#000" stroke="#000" stroke-width="0.12">−1.0</text><line x1="214.95" y1="108" x2="216.45" y2="108" stroke="#555" stroke-width="0.5"/><text x="214.15" y="109.8" font-size="3.4" text-anchor="end" fill="#000" stroke="#000" stroke-width="0.12">−1.5</text><text transform="translate(204.3,60.55) rotate(-90)" font-size="3.6" text-anchor="middle" fill="#000" stroke="#000" stroke-width="0.12">bid_volume</text><text x="305.67" y="5.4" font-size="4.4" text-anchor="middle" fill="#000" stroke="#000" stroke-width="0.1">PIO_2022-7-17 15:56</text><rect x="217.2" y="8.1" width="45" height="11" rx="0.8" fill="#fff" stroke="#d4d4d4" stroke-width="0.5"/><line x1="219.8" y1="11.4" x2="226.4" y2="11.4" stroke="#6a6a98" stroke-width="0.75" stroke-dasharray="1.7,0.9"/><line x1="219.8" y1="15.8" x2="226.4" y2="15.8" stroke="#d6d088" stroke-width="0.8"/><text x="228.8" y="12.5" font-size="3.4" fill="#000" stroke="#000" stroke-width="0.05">2022-7-17 15:56</text><text x="228.8" y="16.9" font-size="3.4" fill="#000" stroke="#000" stroke-width="0.05">anomalous volumes</text><path d="M224.5 113.7v1.5M238.25 113.7v1.5M252 113.7v1.5M259.5 113.7v1.5M263.25 113.7v1.5M266.25 113.7v1.5M269.5 113.7v1.5M273.25 113.7v1.5M280.75 113.7v1.5M283.25 113.7v1.5M285.75 113.7v1.5M288.75 113.7v1.5M291.25 113.7v1.5M294.5 113.7v1.5M298.75 113.7v1.5M302.5 113.7v1.5M311.25 113.7v1.5M325.75 113.7v1.5M332 113.7v1.5M335.75 113.7v1.5M338.75 113.7v1.5M346.25 113.7v1.5M354.5 113.7v1.5M363.75 113.7v1.5M371.75 113.7v1.5M385.75 113.7v1.5" stroke="#555" stroke-width="0.5"/><g font-size="4.1" fill="#222" stroke="#222" stroke-width="0.12"><text transform="translate(225.95,116.3) rotate(-90) scale(0.95,1)" text-anchor="end">18 11</text><text transform="translate(226.35,116.3) rotate(-90) scale(0.95,1)" text-anchor="end">24 13</text><text transform="translate(239.7,116.3) rotate(-90) scale(0.95,1)" text-anchor="end">16 20</text><text transform="translate(253.45,116.3) rotate(-90) scale(0.95,1)" text-anchor="end">19 14</text><text transform="translate(260.95,116.3) rotate(-90) scale(0.95,1)" text-anchor="end">19 16</text><text transform="translate(264.7,116.3) rotate(-90) scale(0.95,1)" text-anchor="end">25 16</text><text transform="translate(267.7,116.3) rotate(-90) scale(0.95,1)" text-anchor="end">18 12</text><text transform="translate(270.95,116.3) rotate(-90) scale(0.95,1)" text-anchor="end">24 20</text><text transform="translate(274.7,116.3) rotate(-90) scale(0.95,1)" text-anchor="end">20 11</text><text transform="translate(282.2,116.3) rotate(-90) scale(0.95,1)" text-anchor="end">18 15</text><text transform="translate(284.7,116.3) rotate(-90) scale(0.95,1)" text-anchor="end">24 15</text><text transform="translate(287.2,116.3) rotate(-90) scale(0.95,1)" text-anchor="end">28 15</text><text transform="translate(290.2,116.3) rotate(-90) scale(0.95,1)" text-anchor="end">12 22</text><text transform="translate(292.7,116.3) rotate(-90) scale(0.95,1)" text-anchor="end">27 23</text><text transform="translate(295.95,116.3) rotate(-90) scale(0.95,1)" text-anchor="end">21 23</text><text transform="translate(300.2,116.3) rotate(-90) scale(0.95,1)" text-anchor="end">22 05</text><text transform="translate(303.95,116.3) rotate(-90) scale(0.95,1)" text-anchor="end">23 23</text><text transform="translate(312.7,116.3) rotate(-90) scale(0.95,1)" text-anchor="end">28 02</text><text transform="translate(327.2,116.3) rotate(-90) scale(0.95,1)" text-anchor="end">19 00</text><text transform="translate(333.45,116.3) rotate(-90) scale(0.95,1)" text-anchor="end">28 10</text><text transform="translate(337.2,116.3) rotate(-90) scale(0.95,1)" text-anchor="end">20 02</text><text transform="translate(340.2,116.3) rotate(-90) scale(0.95,1)" text-anchor="end">22 19</text><text transform="translate(347.7,116.3) rotate(-90) scale(0.95,1)" text-anchor="end">21 09</text><text transform="translate(355.95,116.3) rotate(-90) scale(0.95,1)" text-anchor="end">15 07</text><text transform="translate(365.2,116.3) rotate(-90) scale(0.95,1)" text-anchor="end">15 09</text><text transform="translate(373.55,116.3) rotate(-90) scale(0.95,1)" text-anchor="end">11 07 36</text><text transform="translate(373.2,116.3) rotate(-90) scale(0.95,1)" text-anchor="end">13 17 50</text><text transform="translate(387.55,116.3) rotate(-90) scale(0.95,1)" text-anchor="end">28 18 28</text><text transform="translate(387.2,116.3) rotate(-90) scale(0.95,1)" text-anchor="end">12 13 12</text></g><text x="305.67" y="134.3" font-size="3.75" text-anchor="middle" fill="#000" stroke="#000" stroke-width="0.12">datetime</text></g>
<g><rect x="23.5" y="175" width="165" height="8" fill="#e6fbf8"/><rect x="29" y="178.25" width="7" height="8.75" fill="#ecfaf6"/><rect x="50.25" y="178.25" width="7" height="15" fill="#ecfaf6"/><rect x="85.25" y="178.25" width="7" height="15" fill="#ecfaf6"/><rect x="107.25" y="162.5" width="7" height="15.75" fill="#ecfaf6"/><rect x="179.75" y="178.25" width="7" height="12.25" fill="#ecfaf6"/><rect x="143.5" y="168.75" width="7" height="9.5" fill="#ecfaf6"/><rect x="20.5" y="166.25" width="8" height="12" fill="#fdf1f4"/><rect x="71.25" y="178.25" width="8" height="68.75" fill="#fdf1f4"/><rect x="135.5" y="165" width="8" height="13.25" fill="#fdf1f4"/><rect x="135.5" y="178.25" width="8" height="26.25" fill="#fdf1f4"/><rect x="155.75" y="149.5" width="8" height="28.75" fill="#fdf1f4"/><rect x="148.25" y="164.5" width="8" height="13.75" fill="#fdf1f4"/><rect x="152" y="160" width="8" height="18.25" fill="#fdf1f4"/><rect x="153" y="161" width="8" height="17.25" fill="#fdf1f4"/><rect x="180.75" y="151.25" width="8" height="27" fill="#fdf1f4"/><rect x="180.75" y="178.25" width="8" height="17.75" fill="#fdf1f4"/><line x1="23.5" y1="160.5" x2="188.5" y2="160.5" stroke="#c8e8b8" stroke-width="1.1" stroke-dasharray="1.7,0.8"/><line x1="23.5" y1="196.25" x2="188.5" y2="196.25" stroke="#e9e6b0" stroke-width="1.1" stroke-dasharray="1.7,0.8"/><line x1="25.5" y1="178.25" x2="25.5" y2="166.25" stroke="#b08a82" stroke-width="0.9"/><line x1="33" y1="178.25" x2="33" y2="187" stroke="#4f8456" stroke-width="0.7"/><line x1="36.25" y1="178.25" x2="36.25" y2="175.5" stroke="#4f8456" stroke-width="0.7"/><line x1="41.25" y1="178.25" x2="41.25" y2="182.5" stroke="#4f8456" stroke-width="0.7"/><line x1="54.25" y1="178.25" x2="54.25" y2="193.25" stroke="#4f8456" stroke-width="0.7"/><line x1="58.25" y1="178.25" x2="58.25" y2="173.25" stroke="#4f8456" stroke-width="0.7"/><line x1="59.5" y1="178.25" x2="59.5" y2="185.75" stroke="#4f8456" stroke-width="0.7"/><line x1="63.25" y1="178.25" x2="63.25" y2="173.25" stroke="#4f8456" stroke-width="0.7"/><line x1="76.25" y1="178.25" x2="76.25" y2="247" stroke="#b08a82" stroke-width="0.9"/><line x1="89.25" y1="178.25" x2="89.25" y2="193.25" stroke="#4f8456" stroke-width="0.7"/><line x1="111.25" y1="178.25" x2="111.25" y2="162.5" stroke="#4f8456" stroke-width="0.7"/><line x1="140.5" y1="178.25" x2="140.5" y2="165" stroke="#b08a82" stroke-width="0.9"/><line x1="140.5" y1="178.25" x2="140.5" y2="204.5" stroke="#b08a82" stroke-width="0.9"/><line x1="160.75" y1="178.25" x2="160.75" y2="149.5" stroke="#b08a82" stroke-width="0.9"/><line x1="153.25" y1="178.25" x2="153.25" y2="164.5" stroke="#b08a82" stroke-width="0.9"/><line x1="157" y1="178.25" x2="157" y2="160" stroke="#b08a82" stroke-width="0.9"/><line x1="158" y1="178.25" x2="158" y2="161" stroke="#b08a82" stroke-width="0.9"/><line x1="185.75" y1="178.25" x2="185.75" y2="151.25" stroke="#b08a82" stroke-width="0.9"/><line x1="185.75" y1="178.25" x2="185.75" y2="196" stroke="#b08a82" stroke-width="0.9"/><line x1="183.75" y1="178.25" x2="183.75" y2="190.5" stroke="#4f8456" stroke-width="0.7"/><line x1="115" y1="178.25" x2="115" y2="185.5" stroke="#4f8456" stroke-width="0.7"/><line x1="125" y1="178.25" x2="125" y2="173" stroke="#4f8456" stroke-width="0.7"/><line x1="144.5" y1="178.25" x2="144.5" y2="185" stroke="#4f8456" stroke-width="0.7"/><line x1="147.5" y1="178.25" x2="147.5" y2="168.75" stroke="#4f8456" stroke-width="0.7"/><line x1="150" y1="178.25" x2="150" y2="174" stroke="#4f8456" stroke-width="0.7"/><line x1="155" y1="178.25" x2="155" y2="172" stroke="#4f8456" stroke-width="0.7"/><line x1="70" y1="178.25" x2="70" y2="180.5" stroke="#4f8456" stroke-width="0.7"/><line x1="96" y1="178.25" x2="96" y2="176" stroke="#4f8456" stroke-width="0.7"/><line x1="104" y1="178.25" x2="104" y2="180" stroke="#4f8456" stroke-width="0.7"/><line x1="130" y1="178.25" x2="130" y2="181" stroke="#4f8456" stroke-width="0.7"/><line x1="168" y1="178.25" x2="168" y2="175" stroke="#4f8456" stroke-width="0.7"/><line x1="172" y1="178.25" x2="172" y2="174" stroke="#4f8456" stroke-width="0.7"/><line x1="176.25" y1="146.6" x2="176.25" y2="250.75" stroke="#f58aa8" stroke-width="0.7" stroke-dasharray="6,4"/><line x1="23.5" y1="178.25" x2="188.5" y2="178.25" stroke="#2f7138" stroke-width="2.3"/><polyline fill="none" stroke="#2f7138" stroke-width="0.9" stroke-linejoin="round" points="23.5,177.53 25.31,178.15 27.13,178.57 28.94,178.17 30.75,178.31 32.57,177.63 34.38,178.15 36.19,178.09 38.01,178.64 39.82,178.32 41.63,178.24 43.45,177.94 45.26,177.9 47.07,178.25 48.88,178.8 50.7,177.46 52.51,177.21 54.32,179.08 56.14,178.93 57.95,178.53 59.76,178.41 61.58,178.09 63.39,178.11 65.2,177.76 67.02,178.51 68.83,178.17 70.64,177.45 72.46,178.04 74.27,178.03 76.08,177.99 77.9,179.08 79.71,178.72 81.52,177.21 83.34,178.47 85.15,178.71 86.96,178.82 88.77,178.6 90.59,177.42 92.4,178.63 94.21,178.29 96.03,178.88 97.84,178.46 99.65,177.63 101.47,179.05 103.28,177.76 105.09,178.74 106.91,178.45 108.72,178.03 110.53,177.31 112.35,177.9 114.16,177.88 115.97,178.19 117.79,178.17 119.6,178.95 121.41,178.44 123.23,178.76 125.04,177.77 126.85,178.08 128.66,178.65 130.48,178.68 132.29,178.55 134.1,178.07 135.92,177.82 137.73,179.01 139.54,177.97 141.36,178.1 143.17,178.92 144.98,178.29 146.8,177.99 148.61,178.62 150.42,178.17 152.24,178.81 154.05,178.2 155.86,177.91 157.68,179.29 159.49,178.78 161.3,178.32 163.12,178.21 164.93,177.69 166.74,178.01 168.55,177.72 170.37,178.62 172.18,178.77 173.99,178.12 175.81,178.04 177.62,178.42 179.43,178.25 181.25,178.48 183.06,178.46 184.87,178.43 186.69,178.52 188.5,177.83"/><path d="M28.72 178.25V181.77M30.92 178.25V176.32M36.62 178.25V181.4M41.98 178.25V180.33M56.55 178.25V180.96M59.21 178.25V177.26M63.16 178.25V181.64M66.73 178.25V175.46M74.57 178.25V181.85M82.87 178.25V180.19M87.85 178.25V176.15M93.42 178.25V177.3M96.74 178.25V173.79M100.96 178.25V175.85M105.41 178.25V172.99M110.43 178.25V183.99M113.65 178.25V176.44M117.72 178.25V180.57M121.81 178.25V179.28M126.63 178.25V180.94M131.69 178.25V175.98M148.86 178.25V179.39M153.87 178.25V176.06M161.51 178.25V180.89M163.62 178.25V173.54M174.04 178.25V182.17M179.39 178.25V181.05M181.49 178.25V174.63M188.98 178.25V180.56" stroke="#4f8456" stroke-width="0.6" fill="none"/><g fill="#1f4727"><circle cx="23.5" cy="177.53" r="1"/><circle cx="25.31" cy="178.15" r="1"/><circle cx="27.13" cy="178.57" r="1"/><circle cx="28.94" cy="178.17" r="1"/><circle cx="30.75" cy="178.31" r="1"/><circle cx="32.57" cy="177.63" r="1"/><circle cx="34.38" cy="178.15" r="1"/><circle cx="36.19" cy="178.09" r="1"/><circle cx="38.01" cy="178.64" r="1"/><circle cx="39.82" cy="178.32" r="1"/><circle cx="41.63" cy="178.24" r="1"/><circle cx="43.45" cy="177.94" r="1"/><circle cx="45.26" cy="177.9" r="1"/><circle cx="47.07" cy="178.25" r="1"/><circle cx="48.88" cy="178.8" r="1"/><circle cx="50.7" cy="177.46" r="1"/><circle cx="52.51" cy="177.21" r="1"/><circle cx="54.32" cy="179.08" r="1"/><circle cx="56.14" cy="178.93" r="1"/><circle cx="57.95" cy="178.53" r="1"/><circle cx="59.76" cy="178.41" r="1"/><circle cx="61.58" cy="178.09" r="1"/><circle cx="63.39" cy="178.11" r="1"/><circle cx="65.2" cy="177.76" r="1"/><circle cx="67.02" cy="178.51" r="1"/><circle cx="68.83" cy="178.17" r="1"/><circle cx="70.64" cy="177.45" r="1"/><circle cx="72.46" cy="178.04" r="1"/><circle cx="74.27" cy="178.03" r="1"/><circle cx="76.08" cy="177.99" r="1"/><circle cx="77.9" cy="179.08" r="1"/><circle cx="79.71" cy="178.72" r="1"/><circle cx="81.52" cy="177.21" r="1"/><circle cx="83.34" cy="178.47" r="1"/><circle cx="85.15" cy="178.71" r="1"/><circle cx="86.96" cy="178.82" r="1"/><circle cx="88.77" cy="178.6" r="1"/><circle cx="90.59" cy="177.42" r="1"/><circle cx="92.4" cy="178.63" r="1"/><circle cx="94.21" cy="178.29" r="1"/><circle cx="96.03" cy="178.88" r="1"/><circle cx="97.84" cy="178.46" r="1"/><circle cx="99.65" cy="177.63" r="1"/><circle cx="101.47" cy="179.05" r="1"/><circle cx="103.28" cy="177.76" r="1"/><circle cx="105.09" cy="178.74" r="1"/><circle cx="106.91" cy="178.45" r="1"/><circle cx="108.72" cy="178.03" r="1"/><circle cx="110.53" cy="177.31" r="1"/><circle cx="112.35" cy="177.9" r="1"/><circle cx="114.16" cy="177.88" r="1"/><circle cx="115.97" cy="178.19" r="1"/><circle cx="117.79" cy="178.17" r="1"/><circle cx="119.6" cy="178.95" r="1"/><circle cx="121.41" cy="178.44" r="1"/><circle cx="123.23" cy="178.76" r="1"/><circle cx="125.04" cy="177.77" r="1"/><circle cx="126.85" cy="178.08" r="1"/><circle cx="128.66" cy="178.65" r="1"/><circle cx="130.48" cy="178.68" r="1"/><circle cx="132.29" cy="178.55" r="1"/><circle cx="134.1" cy="178.07" r="1"/><circle cx="135.92" cy="177.82" r="1"/><circle cx="137.73" cy="179.01" r="1"/><circle cx="139.54" cy="177.97" r="1"/><circle cx="141.36" cy="178.1" r="1"/><circle cx="143.17" cy="178.92" r="1"/><circle cx="144.98" cy="178.29" r="1"/><circle cx="146.8" cy="177.99" r="1"/><circle cx="148.61" cy="178.62" r="1"/><circle cx="150.42" cy="178.17" r="1"/><circle cx="152.24" cy="178.81" r="1"/><circle cx="154.05" cy="178.2" r="1"/><circle cx="155.86" cy="177.91" r="1"/><circle cx="157.68" cy="179.29" r="1"/><circle cx="159.49" cy="178.78" r="1"/><circle cx="161.3" cy="178.32" r="1"/><circle cx="163.12" cy="178.21" r="1"/><circle cx="164.93" cy="177.69" r="1"/><circle cx="166.74" cy="178.01" r="1"/><circle cx="168.55" cy="177.72" r="1"/><circle cx="170.37" cy="178.62" r="1"/><circle cx="172.18" cy="178.77" r="1"/><circle cx="173.99" cy="178.12" r="1"/><circle cx="175.81" cy="178.04" r="1"/><circle cx="177.62" cy="178.42" r="1"/><circle cx="179.43" cy="178.25" r="1"/><circle cx="181.25" cy="178.48" r="1"/><circle cx="183.06" cy="178.46" r="1"/><circle cx="184.87" cy="178.43" r="1"/><circle cx="186.69" cy="178.52" r="1"/><circle cx="188.5" cy="177.83" r="1"/><circle cx="28.72" cy="181.77" r="0.85"/><circle cx="30.92" cy="176.32" r="0.85"/><circle cx="36.62" cy="181.4" r="0.85"/><circle cx="41.98" cy="180.33" r="0.85"/><circle cx="56.55" cy="180.96" r="0.85"/><circle cx="59.21" cy="177.26" r="0.85"/><circle cx="63.16" cy="181.64" r="0.85"/><circle cx="66.73" cy="175.46" r="0.85"/><circle cx="74.57" cy="181.85" r="0.85"/><circle cx="82.87" cy="180.19" r="0.85"/><circle cx="87.85" cy="176.15" r="0.85"/><circle cx="93.42" cy="177.3" r="0.85"/><circle cx="96.74" cy="173.79" r="0.85"/><circle cx="100.96" cy="175.85" r="0.85"/><circle cx="105.41" cy="172.99" r="0.85"/><circle cx="110.43" cy="183.99" r="0.85"/><circle cx="113.65" cy="176.44" r="0.85"/><circle cx="117.72" cy="180.57" r="0.85"/><circle cx="121.81" cy="179.28" r="0.85"/><circle cx="126.63" cy="180.94" r="0.85"/><circle cx="131.69" cy="175.98" r="0.85"/><circle cx="148.86" cy="179.39" r="0.85"/><circle cx="153.87" cy="176.06" r="0.85"/><circle cx="161.51" cy="180.89" r="0.85"/><circle cx="163.62" cy="173.54" r="0.85"/><circle cx="174.04" cy="182.17" r="0.85"/><circle cx="179.39" cy="181.05" r="0.85"/><circle cx="181.49" cy="174.63" r="0.85"/><circle cx="188.98" cy="180.56" r="0.85"/></g><circle cx="25.5" cy="166.25" r="1.2" fill="#5b3a34"/><circle cx="33" cy="187" r="1.2" fill="#1f4727"/><circle cx="36.25" cy="175.5" r="1.2" fill="#1f4727"/><circle cx="41.25" cy="182.5" r="1.2" fill="#1f4727"/><circle cx="54.25" cy="193.25" r="1.2" fill="#1f4727"/><circle cx="58.25" cy="173.25" r="1.2" fill="#1f4727"/><circle cx="59.5" cy="185.75" r="1.2" fill="#1f4727"/><circle cx="63.25" cy="173.25" r="1.2" fill="#1f4727"/><circle cx="76.25" cy="247" r="1.2" fill="#5b3a34"/><circle cx="89.25" cy="193.25" r="1.2" fill="#1f4727"/><circle cx="111.25" cy="162.5" r="1.2" fill="#1f4727"/><circle cx="140.5" cy="165" r="1.2" fill="#5b3a34"/><circle cx="140.5" cy="204.5" r="1.2" fill="#5b3a34"/><circle cx="160.75" cy="149.5" r="1.2" fill="#5b3a34"/><circle cx="153.25" cy="164.5" r="1.2" fill="#5b3a34"/><circle cx="157" cy="160" r="1.2" fill="#5b3a34"/><circle cx="158" cy="161" r="1.2" fill="#5b3a34"/><circle cx="185.75" cy="151.25" r="1.2" fill="#5b3a34"/><circle cx="185.75" cy="196" r="1.2" fill="#5b3a34"/><circle cx="183.75" cy="190.5" r="1.2" fill="#1f4727"/><circle cx="115" cy="185.5" r="1.2" fill="#1f4727"/><circle cx="125" cy="173" r="1.2" fill="#1f4727"/><circle cx="144.5" cy="185" r="1.2" fill="#1f4727"/><circle cx="147.5" cy="168.75" r="1.2" fill="#1f4727"/><circle cx="150" cy="174" r="1.2" fill="#1f4727"/><circle cx="155" cy="172" r="1.2" fill="#1f4727"/><circle cx="70" cy="180.5" r="1.2" fill="#1f4727"/><circle cx="96" cy="176" r="1.2" fill="#1f4727"/><circle cx="104" cy="180" r="1.2" fill="#1f4727"/><circle cx="130" cy="181" r="1.2" fill="#1f4727"/><circle cx="168" cy="175" r="1.2" fill="#1f4727"/><circle cx="172" cy="174" r="1.2" fill="#1f4727"/><line x1="176.25" y1="147.1" x2="176.25" y2="250.25" stroke="#a88ac8" stroke-width="0.9" stroke-dasharray="1.4,1.1"/><line x1="185.75" y1="147.1" x2="185.75" y2="250.25" stroke="#7a7dc0" stroke-width="0.9" stroke-dasharray="1.4,1.1"/><rect x="16.45" y="145.6" width="178.85" height="106.15" fill="none" stroke="#8c8c8c" stroke-width="0.85"/><line x1="14.95" y1="148.25" x2="16.45" y2="148.25" stroke="#555" stroke-width="0.5"/><text x="14.15" y="150.05" font-size="3.4" text-anchor="end" fill="#000" stroke="#000" stroke-width="0.12">0.4</text><line x1="14.95" y1="163.25" x2="16.45" y2="163.25" stroke="#555" stroke-width="0.5"/><text x="14.15" y="165.05" font-size="3.4" text-anchor="end" fill="#000" stroke="#000" stroke-width="0.12">0.2</text><line x1="14.95" y1="178.25" x2="16.45" y2="178.25" stroke="#555" stroke-width="0.5"/><text x="14.15" y="180.05" font-size="3.4" text-anchor="end" fill="#000" stroke="#000" stroke-width="0.12">0.0</text><line x1="14.95" y1="193.25" x2="16.45" y2="193.25" stroke="#555" stroke-width="0.5"/><text x="14.15" y="195.05" font-size="3.4" text-anchor="end" fill="#000" stroke="#000" stroke-width="0.12">−0.2</text><line x1="14.95" y1="208.25" x2="16.45" y2="208.25" stroke="#555" stroke-width="0.5"/><text x="14.15" y="210.05" font-size="3.4" text-anchor="end" fill="#000" stroke="#000" stroke-width="0.12">−0.4</text><line x1="14.95" y1="223.25" x2="16.45" y2="223.25" stroke="#555" stroke-width="0.5"/><text x="14.15" y="225.05" font-size="3.4" text-anchor="end" fill="#000" stroke="#000" stroke-width="0.12">−0.6</text><line x1="14.95" y1="238.25" x2="16.45" y2="238.25" stroke="#555" stroke-width="0.5"/><text x="14.15" y="240.05" font-size="3.4" text-anchor="end" fill="#000" stroke="#000" stroke-width="0.12">−0.8</text><text transform="translate(4.4,198.68) rotate(-90)" font-size="3.6" text-anchor="middle" fill="#000" stroke="#000" stroke-width="0.12">bid_volume</text><text x="105.88" y="143.6" font-size="4.4" text-anchor="middle" fill="#000" stroke="#000" stroke-width="0.1">FIRO_2021-11-3 16:25</text><rect x="17.2" y="146.3" width="45" height="11" rx="0.8" fill="#fff" stroke="#d4d4d4" stroke-width="0.5"/><line x1="19.8" y1="149.6" x2="26.4" y2="149.6" stroke="#6a6a98" stroke-width="0.75" stroke-dasharray="1.7,0.9"/><line x1="19.8" y1="154" x2="26.4" y2="154" stroke="#d6d088" stroke-width="0.8"/><text x="28.8" y="150.7" font-size="3.4" fill="#000" stroke="#000" stroke-width="0.05">2021-11-3 16:25</text><text x="28.8" y="155.1" font-size="3.4" fill="#000" stroke="#000" stroke-width="0.05">anomalous volumes</text><path d="M24.5 251.75v1.5M32.5 251.75v1.5M36.25 251.75v1.5M43.75 251.75v1.5M48.75 251.75v1.5M55 251.75v1.5M61.25 251.75v1.5M63.25 251.75v1.5M68.25 251.75v1.5M74.5 251.75v1.5M82 251.75v1.5M85.75 251.75v1.5M94.5 251.75v1.5M99.25 251.75v1.5M103 251.75v1.5M108.25 251.75v1.5M113 251.75v1.5M118.25 251.75v1.5M122.5 251.75v1.5M124.25 251.75v1.5M135.75 251.75v1.5M137.5 251.75v1.5M150.75 251.75v1.5M163.75 251.75v1.5M172.5 251.75v1.5M176.25 251.75v1.5M182 251.75v1.5M186.25 251.75v1.5" stroke="#555" stroke-width="0.5"/><g font-size="4.1" fill="#222" stroke="#222" stroke-width="0.12"><text transform="translate(25.95,254.35) rotate(-90) scale(0.95,1)" text-anchor="end">23 01</text><text transform="translate(33.95,254.35) rotate(-90) scale(0.95,1)" text-anchor="end">27 01</text><text transform="translate(37.7,254.35) rotate(-90) scale(0.95,1)" text-anchor="end">16 17</text><text transform="translate(45.2,254.35) rotate(-90) scale(0.95,1)" text-anchor="end">18 08</text><text transform="translate(50.2,254.35) rotate(-90) scale(0.95,1)" text-anchor="end">21 11</text><text transform="translate(56.45,254.35) rotate(-90) scale(0.95,1)" text-anchor="end">27 18</text><text transform="translate(62.7,254.35) rotate(-90) scale(0.95,1)" text-anchor="end">23 12</text><text transform="translate(64.7,254.35) rotate(-90) scale(0.95,1)" text-anchor="end">10 16</text><text transform="translate(69.7,254.35) rotate(-90) scale(0.95,1)" text-anchor="end">20 02</text><text transform="translate(75.95,254.35) rotate(-90) scale(0.95,1)" text-anchor="end">11 20</text><text transform="translate(83.45,254.35) rotate(-90) scale(0.95,1)" text-anchor="end">19 10</text><text transform="translate(87.2,254.35) rotate(-90) scale(0.95,1)" text-anchor="end">20 03</text><text transform="translate(95.95,254.35) rotate(-90) scale(0.95,1)" text-anchor="end">20 04</text><text transform="translate(100.7,254.35) rotate(-90) scale(0.95,1)" text-anchor="end">27 07</text><text transform="translate(104.45,254.35) rotate(-90) scale(0.95,1)" text-anchor="end">25 09</text><text transform="translate(109.7,254.35) rotate(-90) scale(0.95,1)" text-anchor="end">24 03</text><text transform="translate(114.45,254.35) rotate(-90) scale(0.95,1)" text-anchor="end">18 07</text><text transform="translate(119.7,254.35) rotate(-90) scale(0.95,1)" text-anchor="end">12 21</text><text transform="translate(123.95,254.35) rotate(-90) scale(0.95,1)" text-anchor="end">23 09</text><text transform="translate(125.7,254.35) rotate(-90) scale(0.95,1)" text-anchor="end">16 15</text><text transform="translate(137.2,254.35) rotate(-90) scale(0.95,1)" text-anchor="end">21 04</text><text transform="translate(138.95,254.35) rotate(-90) scale(0.95,1)" text-anchor="end">16 16</text><text transform="translate(152.2,254.35) rotate(-90) scale(0.95,1)" text-anchor="end">28 04</text><text transform="translate(165.2,254.35) rotate(-90) scale(0.95,1)" text-anchor="end">19 02</text><text transform="translate(173.95,254.35) rotate(-90) scale(0.95,1)" text-anchor="end">23 14</text><text transform="translate(178.05,254.35) rotate(-90) scale(0.95,1)" text-anchor="end">26 19 48</text><text transform="translate(177.7,254.35) rotate(-90) scale(0.95,1)" text-anchor="end">26 12 49</text><text transform="translate(183.45,254.35) rotate(-90) scale(0.95,1)" text-anchor="end">14 21</text><text transform="translate(188.05,254.35) rotate(-90) scale(0.95,1)" text-anchor="end">28 17 59</text><text transform="translate(187.7,254.35) rotate(-90) scale(0.95,1)" text-anchor="end">27 04 10</text></g><text x="105.88" y="272.35" font-size="3.75" text-anchor="middle" fill="#000" stroke="#000" stroke-width="0.12">datetime</text></g>
<g><rect x="226" y="192" width="164" height="12" fill="#e6fbf8"/><rect x="228" y="186.75" width="7" height="11.25" fill="#ecfaf6"/><rect x="278" y="175.75" width="7" height="22.25" fill="#ecfaf6"/><rect x="365.5" y="165" width="7" height="33" fill="#ecfaf6"/><rect x="370.5" y="172" width="7" height="26" fill="#ecfaf6"/><rect x="300.5" y="183" width="7" height="15" fill="#ecfaf6"/><rect x="309.75" y="187.5" width="7" height="10.5" fill="#ecfaf6"/><rect x="316" y="186.75" width="7" height="11.25" fill="#ecfaf6"/><rect x="331" y="187.5" width="7" height="10.5" fill="#ecfaf6"/><rect x="351.75" y="187" width="7" height="11" fill="#ecfaf6"/><rect x="384.25" y="186.75" width="7" height="11.25" fill="#ecfaf6"/><rect x="377.75" y="188" width="7" height="10" fill="#ecfaf6"/><rect x="369" y="187.5" width="7" height="10.5" fill="#ecfaf6"/><rect x="271" y="198" width="7" height="13.25" fill="#ecfaf6"/><rect x="274" y="198" width="7" height="19.5" fill="#ecfaf6"/><rect x="363.5" y="198" width="7" height="17.5" fill="#ecfaf6"/><rect x="378.5" y="198" width="7" height="14.5" fill="#ecfaf6"/><rect x="310.5" y="198" width="7" height="10" fill="#ecfaf6"/><rect x="283.5" y="198" width="8" height="48.5" fill="#fdf1f4"/><line x1="226" y1="150.5" x2="390" y2="150.5" stroke="#e9e6b0" stroke-width="1.1" stroke-dasharray="1.7,0.8"/><line x1="226" y1="245.5" x2="390" y2="245.5" stroke="#e9e6b0" stroke-width="1.1" stroke-dasharray="1.7,0.8"/><line x1="288.5" y1="198" x2="288.5" y2="246.5" stroke="#b08a82" stroke-width="0.9"/><line x1="232" y1="198" x2="232" y2="186.75" stroke="#4f8456" stroke-width="0.7"/><line x1="282" y1="198" x2="282" y2="175.75" stroke="#4f8456" stroke-width="0.7"/><line x1="269.5" y1="198" x2="269.5" y2="190" stroke="#4f8456" stroke-width="0.7"/><line x1="369.5" y1="198" x2="369.5" y2="165" stroke="#4f8456" stroke-width="0.7"/><line x1="374.5" y1="198" x2="374.5" y2="172" stroke="#4f8456" stroke-width="0.7"/><line x1="304.5" y1="198" x2="304.5" y2="183" stroke="#4f8456" stroke-width="0.7"/><line x1="313.75" y1="198" x2="313.75" y2="187.5" stroke="#4f8456" stroke-width="0.7"/><line x1="320" y1="198" x2="320" y2="186.75" stroke="#4f8456" stroke-width="0.7"/><line x1="335" y1="198" x2="335" y2="187.5" stroke="#4f8456" stroke-width="0.7"/><line x1="355.75" y1="198" x2="355.75" y2="187" stroke="#4f8456" stroke-width="0.7"/><line x1="388.25" y1="198" x2="388.25" y2="186.75" stroke="#4f8456" stroke-width="0.7"/><line x1="381.75" y1="198" x2="381.75" y2="188" stroke="#4f8456" stroke-width="0.7"/><line x1="373" y1="198" x2="373" y2="187.5" stroke="#4f8456" stroke-width="0.7"/><line x1="275" y1="198" x2="275" y2="211.25" stroke="#4f8456" stroke-width="0.7"/><line x1="278" y1="198" x2="278" y2="217.5" stroke="#4f8456" stroke-width="0.7"/><line x1="228.75" y1="198" x2="228.75" y2="205.5" stroke="#4f8456" stroke-width="0.7"/><line x1="367.5" y1="198" x2="367.5" y2="215.5" stroke="#4f8456" stroke-width="0.7"/><line x1="382.5" y1="198" x2="382.5" y2="212.5" stroke="#4f8456" stroke-width="0.7"/><line x1="314.5" y1="198" x2="314.5" y2="208" stroke="#4f8456" stroke-width="0.7"/><line x1="308.25" y1="198" x2="308.25" y2="205.5" stroke="#4f8456" stroke-width="0.7"/><line x1="236" y1="198" x2="236" y2="192" stroke="#4f8456" stroke-width="0.7"/><line x1="245" y1="198" x2="245" y2="193" stroke="#4f8456" stroke-width="0.7"/><line x1="252" y1="198" x2="252" y2="203" stroke="#4f8456" stroke-width="0.7"/><line x1="260" y1="198" x2="260" y2="192" stroke="#4f8456" stroke-width="0.7"/><line x1="296" y1="198" x2="296" y2="203" stroke="#4f8456" stroke-width="0.7"/><line x1="326" y1="198" x2="326" y2="192" stroke="#4f8456" stroke-width="0.7"/><line x1="342" y1="198" x2="342" y2="204" stroke="#4f8456" stroke-width="0.7"/><line x1="350" y1="198" x2="350" y2="191" stroke="#4f8456" stroke-width="0.7"/><line x1="362" y1="198" x2="362" y2="204" stroke="#4f8456" stroke-width="0.7"/><line x1="392" y1="198" x2="392" y2="203" stroke="#4f8456" stroke-width="0.7"/><line x1="226" y1="198" x2="390" y2="198" stroke="#2f7138" stroke-width="3.4"/><polyline fill="none" stroke="#2f7138" stroke-width="0.9" stroke-linejoin="round" points="226,197.39 227.8,195.49 229.6,199.98 231.41,201.51 233.21,198.69 235.01,199.89 236.81,199.91 238.62,199.24 240.42,199.23 242.22,199.72 244.02,197.63 245.82,195.73 247.63,195.48 249.43,198.97 251.23,198.67 253.03,197.95 254.84,194.62 256.64,197.64 258.44,197.9 260.24,196.54 262.04,196.88 263.85,201.14 265.65,199.96 267.45,199.16 269.25,198.44 271.05,197.34 272.86,197.46 274.66,199.02 276.46,196.75 278.26,197.66 280.07,200.41 281.87,196.1 283.67,196.84 285.47,200.62 287.27,198.55 289.08,198.26 290.88,196.77 292.68,195.92 294.48,199.77 296.29,194.49 298.09,198.68 299.89,197.18 301.69,197.86 303.49,194.93 305.3,199.31 307.1,198.87 308.9,198.42 310.7,198.62 312.51,196.01 314.31,198.26 316.11,198.71 317.91,197.88 319.71,194.49 321.52,197.84 323.32,198.16 325.12,196.34 326.92,198.09 328.73,199.9 330.53,197.87 332.33,199.94 334.13,197.2 335.93,196.92 337.74,198.38 339.54,196.68 341.34,195.5 343.14,198.5 344.95,198 346.75,198.86 348.55,196.71 350.35,197.35 352.15,198.72 353.96,197.27 355.76,197.68 357.56,198.34 359.36,196.89 361.16,198.36 362.97,195.82 364.77,198.73 366.57,201.51 368.37,198.95 370.18,197.41 371.98,195.61 373.78,196.28 375.58,197.57 377.38,196.86 379.19,198.73 380.99,198.21 382.79,199.13 384.59,197.67 386.4,199.18 388.2,200.02 390,196.67"/><path d="M239.51 198V193.79M248.2 198V193.76M251.47 198V201.88M266.6 198V191.59M274.9 198V201.59M304.44 198V203.36M317.06 198V202.95M321.65 198V189.29M327.03 198V203.47M354.14 198V191.62M357.09 198V192.83M370.34 198V194.93" stroke="#4f8456" stroke-width="0.6" fill="none"/><g fill="#1f4727"><circle cx="226" cy="197.39" r="1"/><circle cx="227.8" cy="195.49" r="1"/><circle cx="229.6" cy="199.98" r="1"/><circle cx="231.41" cy="201.51" r="1"/><circle cx="233.21" cy="198.69" r="1"/><circle cx="235.01" cy="199.89" r="1"/><circle cx="236.81" cy="199.91" r="1"/><circle cx="238.62" cy="199.24" r="1"/><circle cx="240.42" cy="199.23" r="1"/><circle cx="242.22" cy="199.72" r="1"/><circle cx="244.02" cy="197.63" r="1"/><circle cx="245.82" cy="195.73" r="1"/><circle cx="247.63" cy="195.48" r="1"/><circle cx="249.43" cy="198.97" r="1"/><circle cx="251.23" cy="198.67" r="1"/><circle cx="253.03" cy="197.95" r="1"/><circle cx="254.84" cy="194.62" r="1"/><circle cx="256.64" cy="197.64" r="1"/><circle cx="258.44" cy="197.9" r="1"/><circle cx="260.24" cy="196.54" r="1"/><circle cx="262.04" cy="196.88" r="1"/><circle cx="263.85" cy="201.14" r="1"/><circle cx="265.65" cy="199.96" r="1"/><circle cx="267.45" cy="199.16" r="1"/><circle cx="269.25" cy="198.44" r="1"/><circle cx="271.05" cy="197.34" r="1"/><circle cx="272.86" cy="197.46" r="1"/><circle cx="274.66" cy="199.02" r="1"/><circle cx="276.46" cy="196.75" r="1"/><circle cx="278.26" cy="197.66" r="1"/><circle cx="280.07" cy="200.41" r="1"/><circle cx="281.87" cy="196.1" r="1"/><circle cx="283.67" cy="196.84" r="1"/><circle cx="285.47" cy="200.62" r="1"/><circle cx="287.27" cy="198.55" r="1"/><circle cx="289.08" cy="198.26" r="1"/><circle cx="290.88" cy="196.77" r="1"/><circle cx="292.68" cy="195.92" r="1"/><circle cx="294.48" cy="199.77" r="1"/><circle cx="296.29" cy="194.49" r="1"/><circle cx="298.09" cy="198.68" r="1"/><circle cx="299.89" cy="197.18" r="1"/><circle cx="301.69" cy="197.86" r="1"/><circle cx="303.49" cy="194.93" r="1"/><circle cx="305.3" cy="199.31" r="1"/><circle cx="307.1" cy="198.87" r="1"/><circle cx="308.9" cy="198.42" r="1"/><circle cx="310.7" cy="198.62" r="1"/><circle cx="312.51" cy="196.01" r="1"/><circle cx="314.31" cy="198.26" r="1"/><circle cx="316.11" cy="198.71" r="1"/><circle cx="317.91" cy="197.88" r="1"/><circle cx="319.71" cy="194.49" r="1"/><circle cx="321.52" cy="197.84" r="1"/><circle cx="323.32" cy="198.16" r="1"/><circle cx="325.12" cy="196.34" r="1"/><circle cx="326.92" cy="198.09" r="1"/><circle cx="328.73" cy="199.9" r="1"/><circle cx="330.53" cy="197.87" r="1"/><circle cx="332.33" cy="199.94" r="1"/><circle cx="334.13" cy="197.2" r="1"/><circle cx="335.93" cy="196.92" r="1"/><circle cx="337.74" cy="198.38" r="1"/><circle cx="339.54" cy="196.68" r="1"/><circle cx="341.34" cy="195.5" r="1"/><circle cx="343.14" cy="198.5" r="1"/><circle cx="344.95" cy="198" r="1"/><circle cx="346.75" cy="198.86" r="1"/><circle cx="348.55" cy="196.71" r="1"/><circle cx="350.35" cy="197.35" r="1"/><circle cx="352.15" cy="198.72" r="1"/><circle cx="353.96" cy="197.27" r="1"/><circle cx="355.76" cy="197.68" r="1"/><circle cx="357.56" cy="198.34" r="1"/><circle cx="359.36" cy="196.89" r="1"/><circle cx="361.16" cy="198.36" r="1"/><circle cx="362.97" cy="195.82" r="1"/><circle cx="364.77" cy="198.73" r="1"/><circle cx="366.57" cy="201.51" r="1"/><circle cx="368.37" cy="198.95" r="1"/><circle cx="370.18" cy="197.41" r="1"/><circle cx="371.98" cy="195.61" r="1"/><circle cx="373.78" cy="196.28" r="1"/><circle cx="375.58" cy="197.57" r="1"/><circle cx="377.38" cy="196.86" r="1"/><circle cx="379.19" cy="198.73" r="1"/><circle cx="380.99" cy="198.21" r="1"/><circle cx="382.79" cy="199.13" r="1"/><circle cx="384.59" cy="197.67" r="1"/><circle cx="386.4" cy="199.18" r="1"/><circle cx="388.2" cy="200.02" r="1"/><circle cx="390" cy="196.67" r="1"/><circle cx="239.51" cy="193.79" r="0.85"/><circle cx="248.2" cy="193.76" r="0.85"/><circle cx="251.47" cy="201.88" r="0.85"/><circle cx="266.6" cy="191.59" r="0.85"/><circle cx="274.9" cy="201.59" r="0.85"/><circle cx="304.44" cy="203.36" r="0.85"/><circle cx="317.06" cy="202.95" r="0.85"/><circle cx="321.65" cy="189.29" r="0.85"/><circle cx="327.03" cy="203.47" r="0.85"/><circle cx="354.14" cy="191.62" r="0.85"/><circle cx="357.09" cy="192.83" r="0.85"/><circle cx="370.34" cy="194.93" r="0.85"/></g><circle cx="288.5" cy="246.5" r="1.2" fill="#5b3a34"/><circle cx="232" cy="186.75" r="1.2" fill="#1f4727"/><circle cx="282" cy="175.75" r="1.2" fill="#1f4727"/><circle cx="269.5" cy="190" r="1.2" fill="#1f4727"/><circle cx="369.5" cy="165" r="1.2" fill="#1f4727"/><circle cx="374.5" cy="172" r="1.2" fill="#1f4727"/><circle cx="304.5" cy="183" r="1.2" fill="#1f4727"/><circle cx="313.75" cy="187.5" r="1.2" fill="#1f4727"/><circle cx="320" cy="186.75" r="1.2" fill="#1f4727"/><circle cx="335" cy="187.5" r="1.2" fill="#1f4727"/><circle cx="355.75" cy="187" r="1.2" fill="#1f4727"/><circle cx="388.25" cy="186.75" r="1.2" fill="#1f4727"/><circle cx="381.75" cy="188" r="1.2" fill="#1f4727"/><circle cx="373" cy="187.5" r="1.2" fill="#1f4727"/><circle cx="275" cy="211.25" r="1.2" fill="#1f4727"/><circle cx="278" cy="217.5" r="1.2" fill="#1f4727"/><circle cx="228.75" cy="205.5" r="1.2" fill="#1f4727"/><circle cx="367.5" cy="215.5" r="1.2" fill="#1f4727"/><circle cx="382.5" cy="212.5" r="1.2" fill="#1f4727"/><circle cx="314.5" cy="208" r="1.2" fill="#1f4727"/><circle cx="308.25" cy="205.5" r="1.2" fill="#1f4727"/><circle cx="236" cy="192" r="1.2" fill="#1f4727"/><circle cx="245" cy="193" r="1.2" fill="#1f4727"/><circle cx="252" cy="203" r="1.2" fill="#1f4727"/><circle cx="260" cy="192" r="1.2" fill="#1f4727"/><circle cx="296" cy="203" r="1.2" fill="#1f4727"/><circle cx="326" cy="192" r="1.2" fill="#1f4727"/><circle cx="342" cy="204" r="1.2" fill="#1f4727"/><circle cx="350" cy="191" r="1.2" fill="#1f4727"/><circle cx="362" cy="204" r="1.2" fill="#1f4727"/><circle cx="392" cy="203" r="1.2" fill="#1f4727"/><line x1="373.75" y1="147" x2="373.75" y2="250.1" stroke="#7a7dc0" stroke-width="0.9" stroke-dasharray="1.4,1.1"/><line x1="389.5" y1="147" x2="389.5" y2="250.1" stroke="#7a7dc0" stroke-width="0.9" stroke-dasharray="1.4,1.1"/><rect x="218.7" y="145.5" width="178.8" height="106.1" fill="none" stroke="#8c8c8c" stroke-width="0.85"/><line x1="217.2" y1="156.75" x2="218.7" y2="156.75" stroke="#555" stroke-width="0.5"/><text x="216.4" y="158.55" font-size="3.4" text-anchor="end" fill="#000" stroke="#000" stroke-width="0.12">0.15</text><line x1="217.2" y1="170.5" x2="218.7" y2="170.5" stroke="#555" stroke-width="0.5"/><text x="216.4" y="172.3" font-size="3.4" text-anchor="end" fill="#000" stroke="#000" stroke-width="0.12">0.10</text><line x1="217.2" y1="184.25" x2="218.7" y2="184.25" stroke="#555" stroke-width="0.5"/><text x="216.4" y="186.05" font-size="3.4" text-anchor="end" fill="#000" stroke="#000" stroke-width="0.12">0.05</text><line x1="217.2" y1="198" x2="218.7" y2="198" stroke="#555" stroke-width="0.5"/><text x="216.4" y="199.8" font-size="3.4" text-anchor="end" fill="#000" stroke="#000" stroke-width="0.12">0.00</text><line x1="217.2" y1="211.75" x2="218.7" y2="211.75" stroke="#555" stroke-width="0.5"/><text x="216.4" y="213.55" font-size="3.4" text-anchor="end" fill="#000" stroke="#000" stroke-width="0.12">−0.05</text><line x1="217.2" y1="225.5" x2="218.7" y2="225.5" stroke="#555" stroke-width="0.5"/><text x="216.4" y="227.3" font-size="3.4" text-anchor="end" fill="#000" stroke="#000" stroke-width="0.12">−0.10</text><line x1="217.2" y1="239.25" x2="218.7" y2="239.25" stroke="#555" stroke-width="0.5"/><text x="216.4" y="241.05" font-size="3.4" text-anchor="end" fill="#000" stroke="#000" stroke-width="0.12">−0.15</text><text transform="translate(204.9,198.55) rotate(-90)" font-size="3.6" text-anchor="middle" fill="#000" stroke="#000" stroke-width="0.12">bid_volume</text><text x="308.1" y="143.5" font-size="4.4" text-anchor="middle" fill="#000" stroke="#000" stroke-width="0.1">FIRO_2022-3-13 9:57</text><rect x="351.9" y="146.2" width="45" height="11" rx="0.8" fill="#fff" stroke="#d4d4d4" stroke-width="0.5"/><line x1="354.5" y1="149.5" x2="361.1" y2="149.5" stroke="#6a6a98" stroke-width="0.75" stroke-dasharray="1.7,0.9"/><line x1="354.5" y1="153.9" x2="361.1" y2="153.9" stroke="#d6d088" stroke-width="0.8"/><text x="363.5" y="150.6" font-size="3.4" fill="#000" stroke="#000" stroke-width="0.05">2022-3-13 9:57</text><text x="363.5" y="155" font-size="3.4" fill="#000" stroke="#000" stroke-width="0.05">anomalous volumes</text><path d="M226.25 251.6v1.5M236.25 251.6v1.5M239.5 251.6v1.5M247 251.6v1.5M256.25 251.6v1.5M264.5 251.6v1.5M283.25 251.6v1.5M291.25 251.6v1.5M296.25 251.6v1.5M302.5 251.6v1.5M311.25 251.6v1.5M318.75 251.6v1.5M323.75 251.6v1.5M326.25 251.6v1.5M330 251.6v1.5M334.5 251.6v1.5M337 251.6v1.5M340 251.6v1.5M346.25 251.6v1.5M350 251.6v1.5M356.25 251.6v1.5M359.5 251.6v1.5M362.5 251.6v1.5M365.75 251.6v1.5M373.75 251.6v1.5M389.5 251.6v1.5" stroke="#555" stroke-width="0.5"/><g font-size="4.1" fill="#222" stroke="#222" stroke-width="0.12"><text transform="translate(227.7,254.2) rotate(-90) scale(0.95,1)" text-anchor="end">19 15</text><text transform="translate(228.1,254.2) rotate(-90) scale(0.95,1)" text-anchor="end">28 07</text><text transform="translate(237.7,254.2) rotate(-90) scale(0.95,1)" text-anchor="end">20 08</text><text transform="translate(240.95,254.2) rotate(-90) scale(0.95,1)" text-anchor="end">17 09</text><text transform="translate(248.45,254.2) rotate(-90) scale(0.95,1)" text-anchor="end">25 17</text><text transform="translate(257.7,254.2) rotate(-90) scale(0.95,1)" text-anchor="end">19 00</text><text transform="translate(265.95,254.2) rotate(-90) scale(0.95,1)" text-anchor="end">17 11</text><text transform="translate(284.7,254.2) rotate(-90) scale(0.95,1)" text-anchor="end">28 09</text><text transform="translate(292.7,254.2) rotate(-90) scale(0.95,1)" text-anchor="end">17 11</text><text transform="translate(297.7,254.2) rotate(-90) scale(0.95,1)" text-anchor="end">17 16</text><text transform="translate(303.95,254.2) rotate(-90) scale(0.95,1)" text-anchor="end">22 10</text><text transform="translate(312.7,254.2) rotate(-90) scale(0.95,1)" text-anchor="end">12 02</text><text transform="translate(320.2,254.2) rotate(-90) scale(0.95,1)" text-anchor="end">21 14</text><text transform="translate(325.2,254.2) rotate(-90) scale(0.95,1)" text-anchor="end">24 11</text><text transform="translate(327.7,254.2) rotate(-90) scale(0.95,1)" text-anchor="end">24 15</text><text transform="translate(331.45,254.2) rotate(-90) scale(0.95,1)" text-anchor="end">28 13</text><text transform="translate(335.95,254.2) rotate(-90) scale(0.95,1)" text-anchor="end">17 01</text><text transform="translate(338.45,254.2) rotate(-90) scale(0.95,1)" text-anchor="end">13 05</text><text transform="translate(341.45,254.2) rotate(-90) scale(0.95,1)" text-anchor="end">26 00</text><text transform="translate(347.7,254.2) rotate(-90) scale(0.95,1)" text-anchor="end">19 20</text><text transform="translate(351.45,254.2) rotate(-90) scale(0.95,1)" text-anchor="end">27 02</text><text transform="translate(357.7,254.2) rotate(-90) scale(0.95,1)" text-anchor="end">28 21</text><text transform="translate(360.95,254.2) rotate(-90) scale(0.95,1)" text-anchor="end">21 06</text><text transform="translate(363.95,254.2) rotate(-90) scale(0.95,1)" text-anchor="end">16 11</text><text transform="translate(367.2,254.2) rotate(-90) scale(0.95,1)" text-anchor="end">14 03</text><text transform="translate(375.55,254.2) rotate(-90) scale(0.95,1)" text-anchor="end">18 19 40</text><text transform="translate(375.2,254.2) rotate(-90) scale(0.95,1)" text-anchor="end">26 06 33</text><text transform="translate(391.3,254.2) rotate(-90) scale(0.95,1)" text-anchor="end">26 14 18</text><text transform="translate(390.95,254.2) rotate(-90) scale(0.95,1)" text-anchor="end">21 05 17</text></g><text x="308.1" y="272.2" font-size="3.75" text-anchor="middle" fill="#000" stroke="#000" stroke-width="0.12">datetime</text></g>
<g><rect x="24.5" y="320" width="164.5" height="11" fill="#e6fbf8"/><rect x="44" y="315.5" width="7" height="9.5" fill="#ecfaf6"/><rect x="86.75" y="325" width="7" height="9.5" fill="#ecfaf6"/><rect x="25.5" y="307.5" width="8" height="17.5" fill="#fdf1f4"/><rect x="48.75" y="290.75" width="8" height="34.25" fill="#fdf1f4"/><rect x="125" y="288" width="8" height="37" fill="#fdf1f4"/><rect x="127.75" y="290.5" width="8" height="34.5" fill="#fdf1f4"/><rect x="118.75" y="310.75" width="8" height="14.25" fill="#fdf1f4"/><rect x="141.25" y="312.5" width="8" height="12.5" fill="#fdf1f4"/><rect x="123.25" y="325" width="8" height="59.5" fill="#fdf1f4"/><rect x="124.25" y="325" width="8" height="33.25" fill="#fdf1f4"/><rect x="140.25" y="325" width="8" height="32.5" fill="#fdf1f4"/><rect x="98.5" y="325" width="8" height="12.5" fill="#fdf1f4"/><line x1="24.5" y1="314.25" x2="189" y2="314.25" stroke="#e9e6b0" stroke-width="1.1" stroke-dasharray="1.7,0.8"/><line x1="24.5" y1="336.25" x2="189" y2="336.25" stroke="#e9e6b0" stroke-width="1.1" stroke-dasharray="1.7,0.8"/><line x1="30.5" y1="325" x2="30.5" y2="307.5" stroke="#b08a82" stroke-width="0.9"/><line x1="53.75" y1="325" x2="53.75" y2="290.75" stroke="#b08a82" stroke-width="0.9"/><line x1="48" y1="325" x2="48" y2="315.5" stroke="#4f8456" stroke-width="0.7"/><line x1="63.75" y1="325" x2="63.75" y2="318.75" stroke="#4f8456" stroke-width="0.7"/><line x1="130" y1="325" x2="130" y2="288" stroke="#b08a82" stroke-width="0.9"/><line x1="132.75" y1="325" x2="132.75" y2="290.5" stroke="#b08a82" stroke-width="0.9"/><line x1="123.75" y1="325" x2="123.75" y2="310.75" stroke="#b08a82" stroke-width="0.9"/><line x1="146.25" y1="325" x2="146.25" y2="312.5" stroke="#b08a82" stroke-width="0.9"/><line x1="137.5" y1="325" x2="137.5" y2="318.25" stroke="#4f8456" stroke-width="0.7"/><line x1="128.25" y1="325" x2="128.25" y2="384.5" stroke="#b08a82" stroke-width="0.9"/><line x1="129.25" y1="325" x2="129.25" y2="358.25" stroke="#b08a82" stroke-width="0.9"/><line x1="145.25" y1="325" x2="145.25" y2="357.5" stroke="#b08a82" stroke-width="0.9"/><line x1="103.5" y1="325" x2="103.5" y2="337.5" stroke="#b08a82" stroke-width="0.9"/><line x1="30" y1="325" x2="30" y2="332.5" stroke="#4f8456" stroke-width="0.7"/><line x1="90.75" y1="325" x2="90.75" y2="334.5" stroke="#4f8456" stroke-width="0.7"/><line x1="36" y1="325" x2="36" y2="321" stroke="#4f8456" stroke-width="0.7"/><line x1="42" y1="325" x2="42" y2="320" stroke="#4f8456" stroke-width="0.7"/><line x1="58" y1="325" x2="58" y2="321" stroke="#4f8456" stroke-width="0.7"/><line x1="70" y1="325" x2="70" y2="320.5" stroke="#4f8456" stroke-width="0.7"/><line x1="80" y1="325" x2="80" y2="321" stroke="#4f8456" stroke-width="0.7"/><line x1="95" y1="325" x2="95" y2="320" stroke="#4f8456" stroke-width="0.7"/><line x1="110" y1="325" x2="110" y2="321" stroke="#4f8456" stroke-width="0.7"/><line x1="117" y1="325" x2="117" y2="329.5" stroke="#4f8456" stroke-width="0.7"/><line x1="155" y1="325" x2="155" y2="321" stroke="#4f8456" stroke-width="0.7"/><line x1="160" y1="325" x2="160" y2="329" stroke="#4f8456" stroke-width="0.7"/><line x1="165" y1="325" x2="165" y2="320.5" stroke="#4f8456" stroke-width="0.7"/><line x1="172" y1="325" x2="172" y2="330" stroke="#4f8456" stroke-width="0.7"/><line x1="178" y1="325" x2="178" y2="321" stroke="#4f8456" stroke-width="0.7"/><line x1="24.5" y1="325" x2="189" y2="325" stroke="#2f7138" stroke-width="3"/><polyline fill="none" stroke="#2f7138" stroke-width="0.9" stroke-linejoin="round" points="24.5,325.44 26.31,325.03 28.12,323.93 29.92,325.85 31.73,325.28 33.54,325.34 35.35,325.17 37.15,326.51 38.96,325.89 40.77,326.18 42.58,324.74 44.38,324.58 46.19,324.04 48,324.78 49.81,322.66 51.62,326.57 53.42,325.15 55.23,325.1 57.04,325.85 58.85,324.66 60.65,325.26 62.46,325.76 64.27,323.52 66.08,326.68 67.88,325.16 69.69,325.61 71.5,324.02 73.31,324.42 75.12,326.65 76.92,324.51 78.73,324.63 80.54,325.48 82.35,326.4 84.15,322.69 85.96,326.44 87.77,325.28 89.58,325.88 91.38,324.04 93.19,325.32 95,326.57 96.81,324.93 98.62,324.41 100.42,324.6 102.23,324.51 104.04,325.79 105.85,325.21 107.65,324.54 109.46,325.78 111.27,323.97 113.08,323.64 114.88,327.34 116.69,324.41 118.5,326.59 120.31,324.94 122.12,324.81 123.92,325.53 125.73,324.19 127.54,324.21 129.35,324.82 131.15,324.65 132.96,325.71 134.77,326.9 136.58,323.88 138.38,324.17 140.19,325.75 142,325.51 143.81,326.1 145.62,324.3 147.42,325.6 149.23,324.97 151.04,323.45 152.85,325.45 154.65,323.51 156.46,325.54 158.27,324.58 160.08,324.83 161.88,327.09 163.69,326.5 165.5,325.43 167.31,325.4 169.12,324.27 170.92,326.22 172.73,325.62 174.54,324.19 176.35,323.41 178.15,325.02 179.96,324.85 181.77,325.86 183.58,324.03 185.38,324.17 187.19,325.43 189,325.1"/><path d="M32.94 325V321.21M43.95 325V329.26M47.35 325V327.42M77.5 325V320.1M90.07 325V322.28M104.05 325V328.58M154.65 325V321.25M158.19 325V327.68M165.77 325V327.24M176.74 325V322.08" stroke="#4f8456" stroke-width="0.6" fill="none"/><g fill="#1f4727"><circle cx="24.5" cy="325.44" r="1"/><circle cx="26.31" cy="325.03" r="1"/><circle cx="28.12" cy="323.93" r="1"/><circle cx="29.92" cy="325.85" r="1"/><circle cx="31.73" cy="325.28" r="1"/><circle cx="33.54" cy="325.34" r="1"/><circle cx="35.35" cy="325.17" r="1"/><circle cx="37.15" cy="326.51" r="1"/><circle cx="38.96" cy="325.89" r="1"/><circle cx="40.77" cy="326.18" r="1"/><circle cx="42.58" cy="324.74" r="1"/><circle cx="44.38" cy="324.58" r="1"/><circle cx="46.19" cy="324.04" r="1"/><circle cx="48" cy="324.78" r="1"/><circle cx="49.81" cy="322.66" r="1"/><circle cx="51.62" cy="326.57" r="1"/><circle cx="53.42" cy="325.15" r="1"/><circle cx="55.23" cy="325.1" r="1"/><circle cx="57.04" cy="325.85" r="1"/><circle cx="58.85" cy="324.66" r="1"/><circle cx="60.65" cy="325.26" r="1"/><circle cx="62.46" cy="325.76" r="1"/><circle cx="64.27" cy="323.52" r="1"/><circle cx="66.08" cy="326.68" r="1"/><circle cx="67.88" cy="325.16" r="1"/><circle cx="69.69" cy="325.61" r="1"/><circle cx="71.5" cy="324.02" r="1"/><circle cx="73.31" cy="324.42" r="1"/><circle cx="75.12" cy="326.65" r="1"/><circle cx="76.92" cy="324.51" r="1"/><circle cx="78.73" cy="324.63" r="1"/><circle cx="80.54" cy="325.48" r="1"/><circle cx="82.35" cy="326.4" r="1"/><circle cx="84.15" cy="322.69" r="1"/><circle cx="85.96" cy="326.44" r="1"/><circle cx="87.77" cy="325.28" r="1"/><circle cx="89.58" cy="325.88" r="1"/><circle cx="91.38" cy="324.04" r="1"/><circle cx="93.19" cy="325.32" r="1"/><circle cx="95" cy="326.57" r="1"/><circle cx="96.81" cy="324.93" r="1"/><circle cx="98.62" cy="324.41" r="1"/><circle cx="100.42" cy="324.6" r="1"/><circle cx="102.23" cy="324.51" r="1"/><circle cx="104.04" cy="325.79" r="1"/><circle cx="105.85" cy="325.21" r="1"/><circle cx="107.65" cy="324.54" r="1"/><circle cx="109.46" cy="325.78" r="1"/><circle cx="111.27" cy="323.97" r="1"/><circle cx="113.08" cy="323.64" r="1"/><circle cx="114.88" cy="327.34" r="1"/><circle cx="116.69" cy="324.41" r="1"/><circle cx="118.5" cy="326.59" r="1"/><circle cx="120.31" cy="324.94" r="1"/><circle cx="122.12" cy="324.81" r="1"/><circle cx="123.92" cy="325.53" r="1"/><circle cx="125.73" cy="324.19" r="1"/><circle cx="127.54" cy="324.21" r="1"/><circle cx="129.35" cy="324.82" r="1"/><circle cx="131.15" cy="324.65" r="1"/><circle cx="132.96" cy="325.71" r="1"/><circle cx="134.77" cy="326.9" r="1"/><circle cx="136.58" cy="323.88" r="1"/><circle cx="138.38" cy="324.17" r="1"/><circle cx="140.19" cy="325.75" r="1"/><circle cx="142" cy="325.51" r="1"/><circle cx="143.81" cy="326.1" r="1"/><circle cx="145.62" cy="324.3" r="1"/><circle cx="147.42" cy="325.6" r="1"/><circle cx="149.23" cy="324.97" r="1"/><circle cx="151.04" cy="323.45" r="1"/><circle cx="152.85" cy="325.45" r="1"/><circle cx="154.65" cy="323.51" r="1"/><circle cx="156.46" cy="325.54" r="1"/><circle cx="158.27" cy="324.58" r="1"/><circle cx="160.08" cy="324.83" r="1"/><circle cx="161.88" cy="327.09" r="1"/><circle cx="163.69" cy="326.5" r="1"/><circle cx="165.5" cy="325.43" r="1"/><circle cx="167.31" cy="325.4" r="1"/><circle cx="169.12" cy="324.27" r="1"/><circle cx="170.92" cy="326.22" r="1"/><circle cx="172.73" cy="325.62" r="1"/><circle cx="174.54" cy="324.19" r="1"/><circle cx="176.35" cy="323.41" r="1"/><circle cx="178.15" cy="325.02" r="1"/><circle cx="179.96" cy="324.85" r="1"/><circle cx="181.77" cy="325.86" r="1"/><circle cx="183.58" cy="324.03" r="1"/><circle cx="185.38" cy="324.17" r="1"/><circle cx="187.19" cy="325.43" r="1"/><circle cx="189" cy="325.1" r="1"/><circle cx="32.94" cy="321.21" r="0.85"/><circle cx="43.95" cy="329.26" r="0.85"/><circle cx="47.35" cy="327.42" r="0.85"/><circle cx="77.5" cy="320.1" r="0.85"/><circle cx="90.07" cy="322.28" r="0.85"/><circle cx="104.05" cy="328.58" r="0.85"/><circle cx="154.65" cy="321.25" r="0.85"/><circle cx="158.19" cy="327.68" r="0.85"/><circle cx="165.77" cy="327.24" r="0.85"/><circle cx="176.74" cy="322.08" r="0.85"/></g><circle cx="30.5" cy="307.5" r="1.2" fill="#5b3a34"/><circle cx="53.75" cy="290.75" r="1.2" fill="#5b3a34"/><circle cx="48" cy="315.5" r="1.2" fill="#1f4727"/><circle cx="63.75" cy="318.75" r="1.2" fill="#1f4727"/><circle cx="130" cy="288" r="1.2" fill="#5b3a34"/><circle cx="132.75" cy="290.5" r="1.2" fill="#5b3a34"/><circle cx="123.75" cy="310.75" r="1.2" fill="#5b3a34"/><circle cx="146.25" cy="312.5" r="1.2" fill="#5b3a34"/><circle cx="137.5" cy="318.25" r="1.2" fill="#1f4727"/><circle cx="128.25" cy="384.5" r="1.2" fill="#5b3a34"/><circle cx="129.25" cy="358.25" r="1.2" fill="#5b3a34"/><circle cx="145.25" cy="357.5" r="1.2" fill="#5b3a34"/><circle cx="103.5" cy="337.5" r="1.2" fill="#5b3a34"/><circle cx="30" cy="332.5" r="1.2" fill="#1f4727"/><circle cx="90.75" cy="334.5" r="1.2" fill="#1f4727"/><circle cx="36" cy="321" r="1.2" fill="#1f4727"/><circle cx="42" cy="320" r="1.2" fill="#1f4727"/><circle cx="58" cy="321" r="1.2" fill="#1f4727"/><circle cx="70" cy="320.5" r="1.2" fill="#1f4727"/><circle cx="80" cy="321" r="1.2" fill="#1f4727"/><circle cx="95" cy="320" r="1.2" fill="#1f4727"/><circle cx="110" cy="321" r="1.2" fill="#1f4727"/><circle cx="117" cy="329.5" r="1.2" fill="#1f4727"/><circle cx="155" cy="321" r="1.2" fill="#1f4727"/><circle cx="160" cy="329" r="1.2" fill="#1f4727"/><circle cx="165" cy="320.5" r="1.2" fill="#1f4727"/><circle cx="172" cy="330" r="1.2" fill="#1f4727"/><circle cx="178" cy="321" r="1.2" fill="#1f4727"/><line x1="182.5" y1="285.2" x2="182.5" y2="387.95" stroke="#7a7dc0" stroke-width="0.9" stroke-dasharray="1.4,1.1"/><line x1="187.5" y1="285.2" x2="187.5" y2="387.95" stroke="#7a7dc0" stroke-width="0.9" stroke-dasharray="1.4,1.1"/><rect x="17.8" y="283.7" width="178.6" height="105.75" fill="none" stroke="#8c8c8c" stroke-width="0.85"/><line x1="16.3" y1="296.76" x2="17.8" y2="296.76" stroke="#555" stroke-width="0.5"/><text x="15.5" y="298.56" font-size="3.4" text-anchor="end" fill="#000" stroke="#000" stroke-width="0.12">0.4</text><line x1="16.3" y1="310.88" x2="17.8" y2="310.88" stroke="#555" stroke-width="0.5"/><text x="15.5" y="312.68" font-size="3.4" text-anchor="end" fill="#000" stroke="#000" stroke-width="0.12">0.2</text><line x1="16.3" y1="325" x2="17.8" y2="325" stroke="#555" stroke-width="0.5"/><text x="15.5" y="326.8" font-size="3.4" text-anchor="end" fill="#000" stroke="#000" stroke-width="0.12">0.0</text><line x1="16.3" y1="339.12" x2="17.8" y2="339.12" stroke="#555" stroke-width="0.5"/><text x="15.5" y="340.92" font-size="3.4" text-anchor="end" fill="#000" stroke="#000" stroke-width="0.12">−0.2</text><line x1="16.3" y1="353.24" x2="17.8" y2="353.24" stroke="#555" stroke-width="0.5"/><text x="15.5" y="355.04" font-size="3.4" text-anchor="end" fill="#000" stroke="#000" stroke-width="0.12">−0.4</text><line x1="16.3" y1="367.36" x2="17.8" y2="367.36" stroke="#555" stroke-width="0.5"/><text x="15.5" y="369.16" font-size="3.4" text-anchor="end" fill="#000" stroke="#000" stroke-width="0.12">−0.6</text><line x1="16.3" y1="381.48" x2="17.8" y2="381.48" stroke="#555" stroke-width="0.5"/><text x="15.5" y="383.28" font-size="3.4" text-anchor="end" fill="#000" stroke="#000" stroke-width="0.12">−0.8</text><text transform="translate(5.7,336.57) rotate(-90)" font-size="3.6" text-anchor="middle" fill="#000" stroke="#000" stroke-width="0.12">bid_volume</text><text x="107.1" y="281.7" font-size="4.4" text-anchor="middle" fill="#000" stroke="#000" stroke-width="0.1">FIS_2021-7-7 19:06</text><rect x="150.8" y="284.4" width="45" height="11" rx="0.8" fill="#fff" stroke="#d4d4d4" stroke-width="0.5"/><line x1="153.4" y1="287.7" x2="160" y2="287.7" stroke="#6a6a98" stroke-width="0.75" stroke-dasharray="1.7,0.9"/><line x1="153.4" y1="292.1" x2="160" y2="292.1" stroke="#d6d088" stroke-width="0.8"/><text x="162.4" y="288.8" font-size="3.4" fill="#000" stroke="#000" stroke-width="0.05">2021-7-7 19:06</text><text x="162.4" y="293.2" font-size="3.4" fill="#000" stroke="#000" stroke-width="0.05">anomalous volumes</text><path d="M25.5 389.45v1.5M33.25 389.45v1.5M40.75 389.45v1.5M50 389.45v1.5M59.5 389.45v1.5M67.5 389.45v1.5M72 389.45v1.5M75 389.45v1.5M77.5 389.45v1.5M80.75 389.45v1.5M84.25 389.45v1.5M88.75 389.45v1.5M96.25 389.45v1.5M101.75 389.45v1.5M105.75 389.45v1.5M108 389.45v1.5M113 389.45v1.5M120 389.45v1.5M126.25 389.45v1.5M142.5 389.45v1.5M151.75 389.45v1.5M161.25 389.45v1.5M166.25 389.45v1.5M168.75 389.45v1.5M175 389.45v1.5M182 389.45v1.5M187 389.45v1.5" stroke="#555" stroke-width="0.5"/><g font-size="4.1" fill="#222" stroke="#222" stroke-width="0.12"><text transform="translate(26.95,392.05) rotate(-90) scale(0.95,1)" text-anchor="end">19 15</text><text transform="translate(34.7,392.05) rotate(-90) scale(0.95,1)" text-anchor="end">10 00</text><text transform="translate(42.2,392.05) rotate(-90) scale(0.95,1)" text-anchor="end">18 12</text><text transform="translate(51.45,392.05) rotate(-90) scale(0.95,1)" text-anchor="end">18 09</text><text transform="translate(60.95,392.05) rotate(-90) scale(0.95,1)" text-anchor="end">19 07</text><text transform="translate(68.95,392.05) rotate(-90) scale(0.95,1)" text-anchor="end">28 09</text><text transform="translate(73.45,392.05) rotate(-90) scale(0.95,1)" text-anchor="end">22 07</text><text transform="translate(76.45,392.05) rotate(-90) scale(0.95,1)" text-anchor="end">17 19</text><text transform="translate(78.95,392.05) rotate(-90) scale(0.95,1)" text-anchor="end">14 20</text><text transform="translate(82.2,392.05) rotate(-90) scale(0.95,1)" text-anchor="end">27 10</text><text transform="translate(85.7,392.05) rotate(-90) scale(0.95,1)" text-anchor="end">13 21</text><text transform="translate(90.2,392.05) rotate(-90) scale(0.95,1)" text-anchor="end">28 22</text><text transform="translate(97.7,392.05) rotate(-90) scale(0.95,1)" text-anchor="end">16 00</text><text transform="translate(103.2,392.05) rotate(-90) scale(0.95,1)" text-anchor="end">21 17</text><text transform="translate(107.2,392.05) rotate(-90) scale(0.95,1)" text-anchor="end">25 09</text><text transform="translate(109.45,392.05) rotate(-90) scale(0.95,1)" text-anchor="end">25 16</text><text transform="translate(114.45,392.05) rotate(-90) scale(0.95,1)" text-anchor="end">18 09</text><text transform="translate(121.45,392.05) rotate(-90) scale(0.95,1)" text-anchor="end">22 12</text><text transform="translate(127.7,392.05) rotate(-90) scale(0.95,1)" text-anchor="end">16 17</text><text transform="translate(143.95,392.05) rotate(-90) scale(0.95,1)" text-anchor="end">17 13</text><text transform="translate(153.2,392.05) rotate(-90) scale(0.95,1)" text-anchor="end">11 18</text><text transform="translate(162.7,392.05) rotate(-90) scale(0.95,1)" text-anchor="end">17 22</text><text transform="translate(167.7,392.05) rotate(-90) scale(0.95,1)" text-anchor="end">17 01</text><text transform="translate(170.2,392.05) rotate(-90) scale(0.95,1)" text-anchor="end">23 21</text><text transform="translate(176.45,392.05) rotate(-90) scale(0.95,1)" text-anchor="end">20 08</text><text transform="translate(183.8,392.05) rotate(-90) scale(0.95,1)" text-anchor="end">20 07 46</text><text transform="translate(183.45,392.05) rotate(-90) scale(0.95,1)" text-anchor="end">13 17 03</text><text transform="translate(188.8,392.05) rotate(-90) scale(0.95,1)" text-anchor="end">11 09 20</text><text transform="translate(188.45,392.05) rotate(-90) scale(0.95,1)" text-anchor="end">25 13 09</text></g><text x="107.1" y="410.05" font-size="3.75" text-anchor="middle" fill="#000" stroke="#000" stroke-width="0.12">datetime</text></g>
<g><rect x="224.5" y="320" width="164.5" height="10" fill="#e6fbf8"/><rect x="267.75" y="308.75" width="7" height="16.25" fill="#ecfaf6"/><rect x="260.25" y="315" width="7" height="10" fill="#ecfaf6"/><rect x="296" y="311.25" width="7" height="13.75" fill="#ecfaf6"/><rect x="356.5" y="315" width="7" height="10" fill="#ecfaf6"/><rect x="382.25" y="316.25" width="7" height="8.75" fill="#ecfaf6"/><rect x="288.5" y="325" width="7" height="8.25" fill="#ecfaf6"/><rect x="248.75" y="288.75" width="8" height="36.25" fill="#fdf1f4"/><rect x="254.5" y="290.5" width="8" height="34.5" fill="#fdf1f4"/><rect x="254.8" y="325" width="8" height="37.5" fill="#fdf1f4"/><rect x="275" y="288" width="8" height="37" fill="#fdf1f4"/><rect x="275.5" y="325" width="8" height="39.5" fill="#fdf1f4"/><rect x="267.5" y="325" width="8" height="59.5" fill="#fdf1f4"/><rect x="228.25" y="325" width="8" height="20.5" fill="#fdf1f4"/><line x1="224.5" y1="305.5" x2="389" y2="305.5" stroke="#e9e6b0" stroke-width="1.1" stroke-dasharray="1.7,0.8"/><line x1="224.5" y1="344.5" x2="389" y2="344.5" stroke="#e9e6b0" stroke-width="1.1" stroke-dasharray="1.7,0.8"/><line x1="253.75" y1="325" x2="253.75" y2="288.75" stroke="#b08a82" stroke-width="0.9"/><line x1="259.5" y1="325" x2="259.5" y2="290.5" stroke="#b08a82" stroke-width="0.9"/><line x1="259.8" y1="325" x2="259.8" y2="362.5" stroke="#b08a82" stroke-width="0.9"/><line x1="280" y1="325" x2="280" y2="288" stroke="#b08a82" stroke-width="0.9"/><line x1="280.5" y1="325" x2="280.5" y2="364.5" stroke="#b08a82" stroke-width="0.9"/><line x1="272.5" y1="325" x2="272.5" y2="384.5" stroke="#b08a82" stroke-width="0.9"/><line x1="233.25" y1="325" x2="233.25" y2="345.5" stroke="#b08a82" stroke-width="0.9"/><line x1="271.75" y1="325" x2="271.75" y2="308.75" stroke="#4f8456" stroke-width="0.7"/><line x1="248.25" y1="325" x2="248.25" y2="318.25" stroke="#4f8456" stroke-width="0.7"/><line x1="264.25" y1="325" x2="264.25" y2="315" stroke="#4f8456" stroke-width="0.7"/><line x1="273.25" y1="325" x2="273.25" y2="318.25" stroke="#4f8456" stroke-width="0.7"/><line x1="300" y1="325" x2="300" y2="311.25" stroke="#4f8456" stroke-width="0.7"/><line x1="308.75" y1="325" x2="308.75" y2="319.5" stroke="#4f8456" stroke-width="0.7"/><line x1="338.75" y1="325" x2="338.75" y2="318.25" stroke="#4f8456" stroke-width="0.7"/><line x1="360.5" y1="325" x2="360.5" y2="315" stroke="#4f8456" stroke-width="0.7"/><line x1="375" y1="325" x2="375" y2="317" stroke="#4f8456" stroke-width="0.7"/><line x1="386.25" y1="325" x2="386.25" y2="316.25" stroke="#4f8456" stroke-width="0.7"/><line x1="370.75" y1="325" x2="370.75" y2="321.25" stroke="#4f8456" stroke-width="0.7"/><line x1="335" y1="325" x2="335" y2="322" stroke="#4f8456" stroke-width="0.7"/><line x1="228.75" y1="325" x2="228.75" y2="330.75" stroke="#4f8456" stroke-width="0.7"/><line x1="244.5" y1="325" x2="244.5" y2="332" stroke="#4f8456" stroke-width="0.7"/><line x1="254.5" y1="325" x2="254.5" y2="330.75" stroke="#4f8456" stroke-width="0.7"/><line x1="292.5" y1="325" x2="292.5" y2="333.25" stroke="#4f8456" stroke-width="0.7"/><line x1="226" y1="325" x2="226" y2="321" stroke="#4f8456" stroke-width="0.7"/><line x1="238" y1="325" x2="238" y2="321.5" stroke="#4f8456" stroke-width="0.7"/><line x1="285" y1="325" x2="285" y2="321" stroke="#4f8456" stroke-width="0.7"/><line x1="315" y1="325" x2="315" y2="321" stroke="#4f8456" stroke-width="0.7"/><line x1="322" y1="325" x2="322" y2="329" stroke="#4f8456" stroke-width="0.7"/><line x1="345" y1="325" x2="345" y2="329.5" stroke="#4f8456" stroke-width="0.7"/><line x1="352" y1="325" x2="352" y2="321" stroke="#4f8456" stroke-width="0.7"/><line x1="365" y1="325" x2="365" y2="329" stroke="#4f8456" stroke-width="0.7"/><line x1="224.5" y1="325" x2="389" y2="325" stroke="#2f7138" stroke-width="2.3"/><polyline fill="none" stroke="#2f7138" stroke-width="0.9" stroke-linejoin="round" points="224.5,324.59 226.31,324.51 228.12,324.96 229.92,324.78 231.73,324.81 233.54,324.45 235.35,324.71 237.15,324.77 238.96,324.74 240.77,325.39 242.58,324.54 244.38,325.85 246.19,323.48 248,325.26 249.81,324.63 251.62,324.79 253.42,324.44 255.23,324.52 257.04,325.46 258.85,325.57 260.65,325.58 262.46,325.04 264.27,324.11 266.08,324.79 267.88,325.8 269.69,324.79 271.5,325.67 273.31,325.1 275.12,325 276.92,326 278.73,325.2 280.54,324.84 282.35,325.07 284.15,324.5 285.96,325.27 287.77,325.6 289.58,324.57 291.38,325.24 293.19,324.94 295,325.64 296.81,324.87 298.62,324.67 300.42,324.69 302.23,325.32 304.04,324.94 305.85,324.55 307.65,324.99 309.46,324.86 311.27,325.39 313.08,324.5 314.88,325.98 316.69,324.57 318.5,325.08 320.31,324.88 322.12,324.99 323.92,324.27 325.73,325.59 327.54,324.49 329.35,324.25 331.15,326.06 332.96,325.42 334.77,324.99 336.58,325.39 338.38,325.51 340.19,324.8 342,324.7 343.81,324.36 345.62,324.61 347.42,325.1 349.23,324.68 351.04,325.46 352.85,325.56 354.65,325.01 356.46,324.2 358.27,324.98 360.08,324.53 361.88,325.9 363.69,325.19 365.5,324.91 367.31,324.89 369.12,325.8 370.92,325.48 372.73,324.79 374.54,324.64 376.35,324.96 378.15,325.62 379.96,325.5 381.77,325.07 383.58,325.01 385.38,325.18 387.19,323.59 389,324.78"/><path d="M229.95 325V322.16M238.16 325V323.31M251.13 325V323.33M256.93 325V323.09M259.9 325V321.69M283.04 325V328.06M286.45 325V328.46M290.68 325V327.74M296.29 325V322.9M300.96 325V328.17M303.15 325V327.3M313.69 325V328.68M317.36 325V321.86M324.64 325V319.93M328.09 325V322.26M339.41 325V322.92M344.88 325V327.23M347.19 325V323.5M351.56 325V327.05M357.07 325V322.53M361.1 325V323.28" stroke="#4f8456" stroke-width="0.6" fill="none"/><g fill="#1f4727"><circle cx="224.5" cy="324.59" r="1"/><circle cx="226.31" cy="324.51" r="1"/><circle cx="228.12" cy="324.96" r="1"/><circle cx="229.92" cy="324.78" r="1"/><circle cx="231.73" cy="324.81" r="1"/><circle cx="233.54" cy="324.45" r="1"/><circle cx="235.35" cy="324.71" r="1"/><circle cx="237.15" cy="324.77" r="1"/><circle cx="238.96" cy="324.74" r="1"/><circle cx="240.77" cy="325.39" r="1"/><circle cx="242.58" cy="324.54" r="1"/><circle cx="244.38" cy="325.85" r="1"/><circle cx="246.19" cy="323.48" r="1"/><circle cx="248" cy="325.26" r="1"/><circle cx="249.81" cy="324.63" r="1"/><circle cx="251.62" cy="324.79" r="1"/><circle cx="253.42" cy="324.44" r="1"/><circle cx="255.23" cy="324.52" r="1"/><circle cx="257.04" cy="325.46" r="1"/><circle cx="258.85" cy="325.57" r="1"/><circle cx="260.65" cy="325.58" r="1"/><circle cx="262.46" cy="325.04" r="1"/><circle cx="264.27" cy="324.11" r="1"/><circle cx="266.08" cy="324.79" r="1"/><circle cx="267.88" cy="325.8" r="1"/><circle cx="269.69" cy="324.79" r="1"/><circle cx="271.5" cy="325.67" r="1"/><circle cx="273.31" cy="325.1" r="1"/><circle cx="275.12" cy="325" r="1"/><circle cx="276.92" cy="326" r="1"/><circle cx="278.73" cy="325.2" r="1"/><circle cx="280.54" cy="324.84" r="1"/><circle cx="282.35" cy="325.07" r="1"/><circle cx="284.15" cy="324.5" r="1"/><circle cx="285.96" cy="325.27" r="1"/><circle cx="287.77" cy="325.6" r="1"/><circle cx="289.58" cy="324.57" r="1"/><circle cx="291.38" cy="325.24" r="1"/><circle cx="293.19" cy="324.94" r="1"/><circle cx="295" cy="325.64" r="1"/><circle cx="296.81" cy="324.87" r="1"/><circle cx="298.62" cy="324.67" r="1"/><circle cx="300.42" cy="324.69" r="1"/><circle cx="302.23" cy="325.32" r="1"/><circle cx="304.04" cy="324.94" r="1"/><circle cx="305.85" cy="324.55" r="1"/><circle cx="307.65" cy="324.99" r="1"/><circle cx="309.46" cy="324.86" r="1"/><circle cx="311.27" cy="325.39" r="1"/><circle cx="313.08" cy="324.5" r="1"/><circle cx="314.88" cy="325.98" r="1"/><circle cx="316.69" cy="324.57" r="1"/><circle cx="318.5" cy="325.08" r="1"/><circle cx="320.31" cy="324.88" r="1"/><circle cx="322.12" cy="324.99" r="1"/><circle cx="323.92" cy="324.27" r="1"/><circle cx="325.73" cy="325.59" r="1"/><circle cx="327.54" cy="324.49" r="1"/><circle cx="329.35" cy="324.25" r="1"/><circle cx="331.15" cy="326.06" r="1"/><circle cx="332.96" cy="325.42" r="1"/><circle cx="334.77" cy="324.99" r="1"/><circle cx="336.58" cy="325.39" r="1"/><circle cx="338.38" cy="325.51" r="1"/><circle cx="340.19" cy="324.8" r="1"/><circle cx="342" cy="324.7" r="1"/><circle cx="343.81" cy="324.36" r="1"/><circle cx="345.62" cy="324.61" r="1"/><circle cx="347.42" cy="325.1" r="1"/><circle cx="349.23" cy="324.68" r="1"/><circle cx="351.04" cy="325.46" r="1"/><circle cx="352.85" cy="325.56" r="1"/><circle cx="354.65" cy="325.01" r="1"/><circle cx="356.46" cy="324.2" r="1"/><circle cx="358.27" cy="324.98" r="1"/><circle cx="360.08" cy="324.53" r="1"/><circle cx="361.88" cy="325.9" r="1"/><circle cx="363.69" cy="325.19" r="1"/><circle cx="365.5" cy="324.91" r="1"/><circle cx="367.31" cy="324.89" r="1"/><circle cx="369.12" cy="325.8" r="1"/><circle cx="370.92" cy="325.48" r="1"/><circle cx="372.73" cy="324.79" r="1"/><circle cx="374.54" cy="324.64" r="1"/><circle cx="376.35" cy="324.96" r="1"/><circle cx="378.15" cy="325.62" r="1"/><circle cx="379.96" cy="325.5" r="1"/><circle cx="381.77" cy="325.07" r="1"/><circle cx="383.58" cy="325.01" r="1"/><circle cx="385.38" cy="325.18" r="1"/><circle cx="387.19" cy="323.59" r="1"/><circle cx="389" cy="324.78" r="1"/><circle cx="229.95" cy="322.16" r="0.85"/><circle cx="238.16" cy="323.31" r="0.85"/><circle cx="251.13" cy="323.33" r="0.85"/><circle cx="256.93" cy="323.09" r="0.85"/><circle cx="259.9" cy="321.69" r="0.85"/><circle cx="283.04" cy="328.06" r="0.85"/><circle cx="286.45" cy="328.46" r="0.85"/><circle cx="290.68" cy="327.74" r="0.85"/><circle cx="296.29" cy="322.9" r="0.85"/><circle cx="300.96" cy="328.17" r="0.85"/><circle cx="303.15" cy="327.3" r="0.85"/><circle cx="313.69" cy="328.68" r="0.85"/><circle cx="317.36" cy="321.86" r="0.85"/><circle cx="324.64" cy="319.93" r="0.85"/><circle cx="328.09" cy="322.26" r="0.85"/><circle cx="339.41" cy="322.92" r="0.85"/><circle cx="344.88" cy="327.23" r="0.85"/><circle cx="347.19" cy="323.5" r="0.85"/><circle cx="351.56" cy="327.05" r="0.85"/><circle cx="357.07" cy="322.53" r="0.85"/><circle cx="361.1" cy="323.28" r="0.85"/></g><circle cx="253.75" cy="288.75" r="1.2" fill="#5b3a34"/><circle cx="259.5" cy="290.5" r="1.2" fill="#5b3a34"/><circle cx="259.8" cy="362.5" r="1.2" fill="#5b3a34"/><circle cx="280" cy="288" r="1.2" fill="#5b3a34"/><circle cx="280.5" cy="364.5" r="1.2" fill="#5b3a34"/><circle cx="272.5" cy="384.5" r="1.2" fill="#5b3a34"/><circle cx="233.25" cy="345.5" r="1.2" fill="#5b3a34"/><circle cx="271.75" cy="308.75" r="1.2" fill="#1f4727"/><circle cx="248.25" cy="318.25" r="1.2" fill="#1f4727"/><circle cx="264.25" cy="315" r="1.2" fill="#1f4727"/><circle cx="273.25" cy="318.25" r="1.2" fill="#1f4727"/><circle cx="300" cy="311.25" r="1.2" fill="#1f4727"/><circle cx="308.75" cy="319.5" r="1.2" fill="#1f4727"/><circle cx="338.75" cy="318.25" r="1.2" fill="#1f4727"/><circle cx="360.5" cy="315" r="1.2" fill="#1f4727"/><circle cx="375" cy="317" r="1.2" fill="#1f4727"/><circle cx="386.25" cy="316.25" r="1.2" fill="#1f4727"/><circle cx="370.75" cy="321.25" r="1.2" fill="#1f4727"/><circle cx="335" cy="322" r="1.2" fill="#1f4727"/><circle cx="228.75" cy="330.75" r="1.2" fill="#1f4727"/><circle cx="244.5" cy="332" r="1.2" fill="#1f4727"/><circle cx="254.5" cy="330.75" r="1.2" fill="#1f4727"/><circle cx="292.5" cy="333.25" r="1.2" fill="#1f4727"/><circle cx="226" cy="321" r="1.2" fill="#1f4727"/><circle cx="238" cy="321.5" r="1.2" fill="#1f4727"/><circle cx="285" cy="321" r="1.2" fill="#1f4727"/><circle cx="315" cy="321" r="1.2" fill="#1f4727"/><circle cx="322" cy="329" r="1.2" fill="#1f4727"/><circle cx="345" cy="329.5" r="1.2" fill="#1f4727"/><circle cx="352" cy="321" r="1.2" fill="#1f4727"/><circle cx="365" cy="329" r="1.2" fill="#1f4727"/><line x1="382.5" y1="285.1" x2="382.5" y2="388.1" stroke="#7a7dc0" stroke-width="0.9" stroke-dasharray="1.4,1.1"/><line x1="387.5" y1="285.1" x2="387.5" y2="388.1" stroke="#7a7dc0" stroke-width="0.9" stroke-dasharray="1.4,1.1"/><rect x="217.7" y="283.6" width="178.7" height="106" fill="none" stroke="#8c8c8c" stroke-width="0.85"/><line x1="216.2" y1="289.3" x2="217.7" y2="289.3" stroke="#555" stroke-width="0.5"/><text x="215.4" y="291.1" font-size="3.4" text-anchor="end" fill="#000" stroke="#000" stroke-width="0.12">0.3</text><line x1="216.2" y1="301.2" x2="217.7" y2="301.2" stroke="#555" stroke-width="0.5"/><text x="215.4" y="303" font-size="3.4" text-anchor="end" fill="#000" stroke="#000" stroke-width="0.12">0.2</text><line x1="216.2" y1="313.1" x2="217.7" y2="313.1" stroke="#555" stroke-width="0.5"/><text x="215.4" y="314.9" font-size="3.4" text-anchor="end" fill="#000" stroke="#000" stroke-width="0.12">0.1</text><line x1="216.2" y1="325" x2="217.7" y2="325" stroke="#555" stroke-width="0.5"/><text x="215.4" y="326.8" font-size="3.4" text-anchor="end" fill="#000" stroke="#000" stroke-width="0.12">0.0</text><line x1="216.2" y1="336.9" x2="217.7" y2="336.9" stroke="#555" stroke-width="0.5"/><text x="215.4" y="338.7" font-size="3.4" text-anchor="end" fill="#000" stroke="#000" stroke-width="0.12">−0.1</text><line x1="216.2" y1="348.8" x2="217.7" y2="348.8" stroke="#555" stroke-width="0.5"/><text x="215.4" y="350.6" font-size="3.4" text-anchor="end" fill="#000" stroke="#000" stroke-width="0.12">−0.2</text><line x1="216.2" y1="360.7" x2="217.7" y2="360.7" stroke="#555" stroke-width="0.5"/><text x="215.4" y="362.5" font-size="3.4" text-anchor="end" fill="#000" stroke="#000" stroke-width="0.12">−0.3</text><line x1="216.2" y1="372.6" x2="217.7" y2="372.6" stroke="#555" stroke-width="0.5"/><text x="215.4" y="374.4" font-size="3.4" text-anchor="end" fill="#000" stroke="#000" stroke-width="0.12">−0.4</text><line x1="216.2" y1="384.5" x2="217.7" y2="384.5" stroke="#555" stroke-width="0.5"/><text x="215.4" y="386.3" font-size="3.4" text-anchor="end" fill="#000" stroke="#000" stroke-width="0.12">−0.5</text><text transform="translate(205.7,336.6) rotate(-90)" font-size="3.6" text-anchor="middle" fill="#000" stroke="#000" stroke-width="0.12">bid_volume</text><text x="307.05" y="281.6" font-size="4.4" text-anchor="middle" fill="#000" stroke="#000" stroke-width="0.1">FOR_2021-7-18 18:34</text><rect x="350.8" y="284.3" width="45" height="11" rx="0.8" fill="#fff" stroke="#d4d4d4" stroke-width="0.5"/><line x1="353.4" y1="287.6" x2="360" y2="287.6" stroke="#6a6a98" stroke-width="0.75" stroke-dasharray="1.7,0.9"/><line x1="353.4" y1="292" x2="360" y2="292" stroke="#d6d088" stroke-width="0.8"/><text x="362.4" y="288.7" font-size="3.4" fill="#000" stroke="#000" stroke-width="0.05">2021-7-18 18:34</text><text x="362.4" y="293.1" font-size="3.4" fill="#000" stroke="#000" stroke-width="0.05">anomalous volumes</text><path d="M224.5 389.6v1.5M228.25 389.6v1.5M238.25 389.6v1.5M245 389.6v1.5M248.25 389.6v1.5M257 389.6v1.5M265 389.6v1.5M268.25 389.6v1.5M276.25 389.6v1.5M287.5 389.6v1.5M289.5 389.6v1.5M295.75 389.6v1.5M301.25 389.6v1.5M304.5 389.6v1.5M305 389.6v1.5M311.25 389.6v1.5M322.5 389.6v1.5M330 389.6v1.5M331.25 389.6v1.5M347.5 389.6v1.5M354.5 389.6v1.5M362.5 389.6v1.5M372.5 389.6v1.5M382.5 389.6v1.5M385 389.6v1.5M387.5 389.6v1.5" stroke="#555" stroke-width="0.5"/><g font-size="4.1" fill="#222" stroke="#222" stroke-width="0.12"><text transform="translate(225.95,392.2) rotate(-90) scale(0.95,1)" text-anchor="end">23 20</text><text transform="translate(229.7,392.2) rotate(-90) scale(0.95,1)" text-anchor="end">17 13</text><text transform="translate(239.7,392.2) rotate(-90) scale(0.95,1)" text-anchor="end">11 05</text><text transform="translate(246.45,392.2) rotate(-90) scale(0.95,1)" text-anchor="end">15 05</text><text transform="translate(249.7,392.2) rotate(-90) scale(0.95,1)" text-anchor="end">21 20</text><text transform="translate(258.45,392.2) rotate(-90) scale(0.95,1)" text-anchor="end">23 19</text><text transform="translate(266.45,392.2) rotate(-90) scale(0.95,1)" text-anchor="end">16 03</text><text transform="translate(269.7,392.2) rotate(-90) scale(0.95,1)" text-anchor="end">15 09</text><text transform="translate(277.7,392.2) rotate(-90) scale(0.95,1)" text-anchor="end">23 01</text><text transform="translate(288.95,392.2) rotate(-90) scale(0.95,1)" text-anchor="end">26 20</text><text transform="translate(290.95,392.2) rotate(-90) scale(0.95,1)" text-anchor="end">27 14</text><text transform="translate(297.2,392.2) rotate(-90) scale(0.95,1)" text-anchor="end">26 01</text><text transform="translate(302.7,392.2) rotate(-90) scale(0.95,1)" text-anchor="end">24 16</text><text transform="translate(305.95,392.2) rotate(-90) scale(0.95,1)" text-anchor="end">18 04</text><text transform="translate(306.45,392.2) rotate(-90) scale(0.95,1)" text-anchor="end">10 08</text><text transform="translate(312.7,392.2) rotate(-90) scale(0.95,1)" text-anchor="end">25 00</text><text transform="translate(323.95,392.2) rotate(-90) scale(0.95,1)" text-anchor="end">28 05</text><text transform="translate(331.45,392.2) rotate(-90) scale(0.95,1)" text-anchor="end">26 00</text><text transform="translate(332.7,392.2) rotate(-90) scale(0.95,1)" text-anchor="end">18 08</text><text transform="translate(348.95,392.2) rotate(-90) scale(0.95,1)" text-anchor="end">26 01</text><text transform="translate(355.95,392.2) rotate(-90) scale(0.95,1)" text-anchor="end">10 10</text><text transform="translate(363.95,392.2) rotate(-90) scale(0.95,1)" text-anchor="end">12 02</text><text transform="translate(373.95,392.2) rotate(-90) scale(0.95,1)" text-anchor="end">23 12</text><text transform="translate(384.3,392.2) rotate(-90) scale(0.95,1)" text-anchor="end">13 09 12</text><text transform="translate(383.95,392.2) rotate(-90) scale(0.95,1)" text-anchor="end">14 19 28</text><text transform="translate(386.45,392.2) rotate(-90) scale(0.95,1)" text-anchor="end">16 18</text><text transform="translate(389.3,392.2) rotate(-90) scale(0.95,1)" text-anchor="end">26 07 25</text><text transform="translate(388.95,392.2) rotate(-90) scale(0.95,1)" text-anchor="end">15 18 18</text></g><text x="307.05" y="410.2" font-size="3.75" text-anchor="middle" fill="#000" stroke="#000" stroke-width="0.12">datetime</text></g>
<g><rect x="23.5" y="469" width="165.5" height="11" fill="#e6fbf8"/><rect x="25.5" y="440.5" width="7" height="33.5" fill="#ecfaf6"/><rect x="53" y="444.25" width="7" height="29.75" fill="#ecfaf6"/><rect x="56" y="446.75" width="7" height="27.25" fill="#ecfaf6"/><rect x="61.75" y="440.5" width="7" height="33.5" fill="#ecfaf6"/><rect x="75.5" y="440" width="7" height="34" fill="#ecfaf6"/><rect x="80.5" y="448" width="7" height="26" fill="#ecfaf6"/><rect x="74.25" y="460.5" width="7" height="13.5" fill="#ecfaf6"/><rect x="54" y="452" width="7" height="22" fill="#ecfaf6"/><rect x="42.5" y="465.75" width="7" height="8.25" fill="#ecfaf6"/><rect x="110.5" y="434.25" width="7" height="39.75" fill="#ecfaf6"/><rect x="116.5" y="453" width="7" height="21" fill="#ecfaf6"/><rect x="128.5" y="465.75" width="7" height="8.25" fill="#ecfaf6"/><rect x="28.5" y="474" width="7" height="22.25" fill="#ecfaf6"/><rect x="31.25" y="474" width="7" height="26" fill="#ecfaf6"/><rect x="35.25" y="474" width="7" height="27.25" fill="#ecfaf6"/><rect x="60.5" y="474" width="7" height="22.25" fill="#ecfaf6"/><rect x="68.5" y="474" width="7" height="16" fill="#ecfaf6"/><rect x="78.5" y="474" width="7" height="16.75" fill="#ecfaf6"/><rect x="87.25" y="474" width="7" height="20.5" fill="#ecfaf6"/><rect x="111.5" y="474" width="7" height="21" fill="#ecfaf6"/><rect x="109.25" y="474" width="7" height="12.75" fill="#ecfaf6"/><rect x="129.25" y="474" width="7" height="13" fill="#ecfaf6"/><rect x="167.75" y="474" width="7" height="15.5" fill="#ecfaf6"/><rect x="147.75" y="474" width="7" height="8.5" fill="#ecfaf6"/><rect x="179.75" y="474" width="7" height="18.5" fill="#ecfaf6"/><rect x="63.25" y="425.5" width="8" height="48.5" fill="#fdf1f4"/><rect x="174" y="428.25" width="8" height="45.75" fill="#fdf1f4"/><rect x="31.75" y="474" width="8" height="49" fill="#fdf1f4"/><rect x="151.75" y="474" width="8" height="33" fill="#fdf1f4"/><rect x="154.25" y="474" width="8" height="44.75" fill="#fdf1f4"/><rect x="155.75" y="474" width="8" height="48" fill="#fdf1f4"/><line x1="23.5" y1="430.75" x2="189" y2="430.75" stroke="#e9e6b0" stroke-width="1.1" stroke-dasharray="1.7,0.8"/><line x1="23.5" y1="517" x2="189" y2="517" stroke="#e9e6b0" stroke-width="1.1" stroke-dasharray="1.7,0.8"/><line x1="29.5" y1="474" x2="29.5" y2="440.5" stroke="#4f8456" stroke-width="0.7"/><line x1="68.25" y1="474" x2="68.25" y2="425.5" stroke="#b08a82" stroke-width="0.9"/><line x1="57" y1="474" x2="57" y2="444.25" stroke="#4f8456" stroke-width="0.7"/><line x1="60" y1="474" x2="60" y2="446.75" stroke="#4f8456" stroke-width="0.7"/><line x1="65.75" y1="474" x2="65.75" y2="440.5" stroke="#4f8456" stroke-width="0.7"/><line x1="79.5" y1="474" x2="79.5" y2="440" stroke="#4f8456" stroke-width="0.7"/><line x1="84.5" y1="474" x2="84.5" y2="448" stroke="#4f8456" stroke-width="0.7"/><line x1="78.25" y1="474" x2="78.25" y2="460.5" stroke="#4f8456" stroke-width="0.7"/><line x1="58" y1="474" x2="58" y2="452" stroke="#4f8456" stroke-width="0.7"/><line x1="46.5" y1="474" x2="46.5" y2="465.75" stroke="#4f8456" stroke-width="0.7"/><line x1="30.5" y1="474" x2="30.5" y2="466.25" stroke="#4f8456" stroke-width="0.7"/><line x1="179" y1="474" x2="179" y2="428.25" stroke="#b08a82" stroke-width="0.9"/><line x1="114.5" y1="474" x2="114.5" y2="434.25" stroke="#4f8456" stroke-width="0.7"/><line x1="120.5" y1="474" x2="120.5" y2="453" stroke="#4f8456" stroke-width="0.7"/><line x1="132.5" y1="474" x2="132.5" y2="465.75" stroke="#4f8456" stroke-width="0.7"/><line x1="36.75" y1="474" x2="36.75" y2="523" stroke="#b08a82" stroke-width="0.9"/><line x1="32.5" y1="474" x2="32.5" y2="496.25" stroke="#4f8456" stroke-width="0.7"/><line x1="35.25" y1="474" x2="35.25" y2="500" stroke="#4f8456" stroke-width="0.7"/><line x1="39.25" y1="474" x2="39.25" y2="501.25" stroke="#4f8456" stroke-width="0.7"/><line x1="64.5" y1="474" x2="64.5" y2="496.25" stroke="#4f8456" stroke-width="0.7"/><line x1="72.5" y1="474" x2="72.5" y2="490" stroke="#4f8456" stroke-width="0.7"/><line x1="82.5" y1="474" x2="82.5" y2="490.75" stroke="#4f8456" stroke-width="0.7"/><line x1="91.25" y1="474" x2="91.25" y2="494.5" stroke="#4f8456" stroke-width="0.7"/><line x1="25.75" y1="474" x2="25.75" y2="481.25" stroke="#4f8456" stroke-width="0.7"/><line x1="156.75" y1="474" x2="156.75" y2="507" stroke="#b08a82" stroke-width="0.9"/><line x1="159.25" y1="474" x2="159.25" y2="518.75" stroke="#b08a82" stroke-width="0.9"/><line x1="160.75" y1="474" x2="160.75" y2="522" stroke="#b08a82" stroke-width="0.9"/><line x1="115.5" y1="474" x2="115.5" y2="495" stroke="#4f8456" stroke-width="0.7"/><line x1="113.25" y1="474" x2="113.25" y2="486.75" stroke="#4f8456" stroke-width="0.7"/><line x1="133.25" y1="474" x2="133.25" y2="487" stroke="#4f8456" stroke-width="0.7"/><line x1="171.75" y1="474" x2="171.75" y2="489.5" stroke="#4f8456" stroke-width="0.7"/><line x1="151.75" y1="474" x2="151.75" y2="482.5" stroke="#4f8456" stroke-width="0.7"/><line x1="183.75" y1="474" x2="183.75" y2="492.5" stroke="#4f8456" stroke-width="0.7"/><line x1="100" y1="474" x2="100" y2="468" stroke="#4f8456" stroke-width="0.7"/><line x1="105" y1="474" x2="105" y2="479" stroke="#4f8456" stroke-width="0.7"/><line x1="140" y1="474" x2="140" y2="468" stroke="#4f8456" stroke-width="0.7"/><line x1="146" y1="474" x2="146" y2="480" stroke="#4f8456" stroke-width="0.7"/><line x1="165" y1="474" x2="165" y2="467" stroke="#4f8456" stroke-width="0.7"/><line x1="176" y1="474" x2="176" y2="480" stroke="#4f8456" stroke-width="0.7"/><line x1="50" y1="474" x2="50" y2="479" stroke="#4f8456" stroke-width="0.7"/><line x1="44" y1="474" x2="44" y2="468" stroke="#4f8456" stroke-width="0.7"/><line x1="181.75" y1="422.5" x2="181.75" y2="526.6" stroke="#f58aa8" stroke-width="0.7" stroke-dasharray="6,4"/><line x1="23.5" y1="474" x2="189" y2="474" stroke="#2f7138" stroke-width="3"/><polyline fill="none" stroke="#2f7138" stroke-width="0.9" stroke-linejoin="round" points="23.5,473.86 25.32,475.03 27.14,474.71 28.96,474.4 30.77,474.12 32.59,474.06 34.41,473.9 36.23,474.44 38.05,473.44 39.87,475.38 41.69,475.23 43.51,474.28 45.32,475.06 47.14,475.2 48.96,473.95 50.78,473.38 52.6,474.83 54.42,472.83 56.24,474.82 58.05,474.42 59.87,473.38 61.69,472.06 63.51,474.32 65.33,474.61 67.15,474.36 68.97,471.72 70.79,474.32 72.6,474.22 74.42,474.01 76.24,473.21 78.06,472.61 79.88,475.2 81.7,473.97 83.52,472.68 85.34,474.98 87.15,472.92 88.97,474.48 90.79,472.8 92.61,473.74 94.43,473.83 96.25,475.67 98.07,472.93 99.88,473.25 101.7,475.02 103.52,475.05 105.34,474.11 107.16,473.46 108.98,473.47 110.8,472.53 112.62,474.87 114.43,474.62 116.25,474.78 118.07,474.76 119.89,474.46 121.71,474.92 123.53,473.17 125.35,475.75 127.16,474.32 128.98,473.41 130.8,473.08 132.62,473.82 134.44,474.74 136.26,474.51 138.08,475.15 139.9,476.06 141.71,474.67 143.53,475.01 145.35,474.76 147.17,473.24 148.99,473.61 150.81,473.83 152.63,474.95 154.45,472.85 156.26,476.11 158.08,473.33 159.9,473.14 161.72,473.46 163.54,473.1 165.36,474.11 167.18,474.16 168.99,475.71 170.81,473.68 172.63,475.02 174.45,474.7 176.27,474.42 178.09,472.14 179.91,474.44 181.73,474.19 183.54,473.05 185.36,474.77 187.18,475.21 189,474.69"/><path d="M28.52 474V468.49M37.41 474V471.75M40.92 474V476.05M58.92 474V471.95M68.03 474V481.27M76.47 474V469.62M81.94 474V469.75M86.55 474V468.84M90.9 474V480.15M93.82 474V476.29M96.72 474V477.98M104.81 474V476.78M110.02 474V467.41M126.43 474V467.75M142.47 474V477.32M148.91 474V469.88M153.59 474V476.75M162.28 474V470.96M164.67 474V471.62M169.18 474V470.24M174.37 474V478.79M189.56 474V479.92" stroke="#4f8456" stroke-width="0.6" fill="none"/><g fill="#1f4727"><circle cx="23.5" cy="473.86" r="1"/><circle cx="25.32" cy="475.03" r="1"/><circle cx="27.14" cy="474.71" r="1"/><circle cx="28.96" cy="474.4" r="1"/><circle cx="30.77" cy="474.12" r="1"/><circle cx="32.59" cy="474.06" r="1"/><circle cx="34.41" cy="473.9" r="1"/><circle cx="36.23" cy="474.44" r="1"/><circle cx="38.05" cy="473.44" r="1"/><circle cx="39.87" cy="475.38" r="1"/><circle cx="41.69" cy="475.23" r="1"/><circle cx="43.51" cy="474.28" r="1"/><circle cx="45.32" cy="475.06" r="1"/><circle cx="47.14" cy="475.2" r="1"/><circle cx="48.96" cy="473.95" r="1"/><circle cx="50.78" cy="473.38" r="1"/><circle cx="52.6" cy="474.83" r="1"/><circle cx="54.42" cy="472.83" r="1"/><circle cx="56.24" cy="474.82" r="1"/><circle cx="58.05" cy="474.42" r="1"/><circle cx="59.87" cy="473.38" r="1"/><circle cx="61.69" cy="472.06" r="1"/><circle cx="63.51" cy="474.32" r="1"/><circle cx="65.33" cy="474.61" r="1"/><circle cx="67.15" cy="474.36" r="1"/><circle cx="68.97" cy="471.72" r="1"/><circle cx="70.79" cy="474.32" r="1"/><circle cx="72.6" cy="474.22" r="1"/><circle cx="74.42" cy="474.01" r="1"/><circle cx="76.24" cy="473.21" r="1"/><circle cx="78.06" cy="472.61" r="1"/><circle cx="79.88" cy="475.2" r="1"/><circle cx="81.7" cy="473.97" r="1"/><circle cx="83.52" cy="472.68" r="1"/><circle cx="85.34" cy="474.98" r="1"/><circle cx="87.15" cy="472.92" r="1"/><circle cx="88.97" cy="474.48" r="1"/><circle cx="90.79" cy="472.8" r="1"/><circle cx="92.61" cy="473.74" r="1"/><circle cx="94.43" cy="473.83" r="1"/><circle cx="96.25" cy="475.67" r="1"/><circle cx="98.07" cy="472.93" r="1"/><circle cx="99.88" cy="473.25" r="1"/><circle cx="101.7" cy="475.02" r="1"/><circle cx="103.52" cy="475.05" r="1"/><circle cx="105.34" cy="474.11" r="1"/><circle cx="107.16" cy="473.46" r="1"/><circle cx="108.98" cy="473.47" r="1"/><circle cx="110.8" cy="472.53" r="1"/><circle cx="112.62" cy="474.87" r="1"/><circle cx="114.43" cy="474.62" r="1"/><circle cx="116.25" cy="474.78" r="1"/><circle cx="118.07" cy="474.76" r="1"/><circle cx="119.89" cy="474.46" r="1"/><circle cx="121.71" cy="474.92" r="1"/><circle cx="123.53" cy="473.17" r="1"/><circle cx="125.35" cy="475.75" r="1"/><circle cx="127.16" cy="474.32" r="1"/><circle cx="128.98" cy="473.41" r="1"/><circle cx="130.8" cy="473.08" r="1"/><circle cx="132.62" cy="473.82" r="1"/><circle cx="134.44" cy="474.74" r="1"/><circle cx="136.26" cy="474.51" r="1"/><circle cx="138.08" cy="475.15" r="1"/><circle cx="139.9" cy="476.06" r="1"/><circle cx="141.71" cy="474.67" r="1"/><circle cx="143.53" cy="475.01" r="1"/><circle cx="145.35" cy="474.76" r="1"/><circle cx="147.17" cy="473.24" r="1"/><circle cx="148.99" cy="473.61" r="1"/><circle cx="150.81" cy="473.83" r="1"/><circle cx="152.63" cy="474.95" r="1"/><circle cx="154.45" cy="472.85" r="1"/><circle cx="156.26" cy="476.11" r="1"/><circle cx="158.08" cy="473.33" r="1"/><circle cx="159.9" cy="473.14" r="1"/><circle cx="161.72" cy="473.46" r="1"/><circle cx="163.54" cy="473.1" r="1"/><circle cx="165.36" cy="474.11" r="1"/><circle cx="167.18" cy="474.16" r="1"/><circle cx="168.99" cy="475.71" r="1"/><circle cx="170.81" cy="473.68" r="1"/><circle cx="172.63" cy="475.02" r="1"/><circle cx="174.45" cy="474.7" r="1"/><circle cx="176.27" cy="474.42" r="1"/><circle cx="178.09" cy="472.14" r="1"/><circle cx="179.91" cy="474.44" r="1"/><circle cx="181.73" cy="474.19" r="1"/><circle cx="183.54" cy="473.05" r="1"/><circle cx="185.36" cy="474.77" r="1"/><circle cx="187.18" cy="475.21" r="1"/><circle cx="189" cy="474.69" r="1"/><circle cx="28.52" cy="468.49" r="0.85"/><circle cx="37.41" cy="471.75" r="0.85"/><circle cx="40.92" cy="476.05" r="0.85"/><circle cx="58.92" cy="471.95" r="0.85"/><circle cx="68.03" cy="481.27" r="0.85"/><circle cx="76.47" cy="469.62" r="0.85"/><circle cx="81.94" cy="469.75" r="0.85"/><circle cx="86.55" cy="468.84" r="0.85"/><circle cx="90.9" cy="480.15" r="0.85"/><circle cx="93.82" cy="476.29" r="0.85"/><circle cx="96.72" cy="477.98" r="0.85"/><circle cx="104.81" cy="476.78" r="0.85"/><circle cx="110.02" cy="467.41" r="0.85"/><circle cx="126.43" cy="467.75" r="0.85"/><circle cx="142.47" cy="477.32" r="0.85"/><circle cx="148.91" cy="469.88" r="0.85"/><circle cx="153.59" cy="476.75" r="0.85"/><circle cx="162.28" cy="470.96" r="0.85"/><circle cx="164.67" cy="471.62" r="0.85"/><circle cx="169.18" cy="470.24" r="0.85"/><circle cx="174.37" cy="478.79" r="0.85"/><circle cx="189.56" cy="479.92" r="0.85"/></g><circle cx="29.5" cy="440.5" r="1.2" fill="#1f4727"/><circle cx="68.25" cy="425.5" r="1.2" fill="#5b3a34"/><circle cx="57" cy="444.25" r="1.2" fill="#1f4727"/><circle cx="60" cy="446.75" r="1.2" fill="#1f4727"/><circle cx="65.75" cy="440.5" r="1.2" fill="#1f4727"/><circle cx="79.5" cy="440" r="1.2" fill="#1f4727"/><circle cx="84.5" cy="448" r="1.2" fill="#1f4727"/><circle cx="78.25" cy="460.5" r="1.2" fill="#1f4727"/><circle cx="58" cy="452" r="1.2" fill="#1f4727"/><circle cx="46.5" cy="465.75" r="1.2" fill="#1f4727"/><circle cx="30.5" cy="466.25" r="1.2" fill="#1f4727"/><circle cx="179" cy="428.25" r="1.2" fill="#5b3a34"/><circle cx="114.5" cy="434.25" r="1.2" fill="#1f4727"/><circle cx="120.5" cy="453" r="1.2" fill="#1f4727"/><circle cx="132.5" cy="465.75" r="1.2" fill="#1f4727"/><circle cx="36.75" cy="523" r="1.2" fill="#5b3a34"/><circle cx="32.5" cy="496.25" r="1.2" fill="#1f4727"/><circle cx="35.25" cy="500" r="1.2" fill="#1f4727"/><circle cx="39.25" cy="501.25" r="1.2" fill="#1f4727"/><circle cx="64.5" cy="496.25" r="1.2" fill="#1f4727"/><circle cx="72.5" cy="490" r="1.2" fill="#1f4727"/><circle cx="82.5" cy="490.75" r="1.2" fill="#1f4727"/><circle cx="91.25" cy="494.5" r="1.2" fill="#1f4727"/><circle cx="25.75" cy="481.25" r="1.2" fill="#1f4727"/><circle cx="156.75" cy="507" r="1.2" fill="#5b3a34"/><circle cx="159.25" cy="518.75" r="1.2" fill="#5b3a34"/><circle cx="160.75" cy="522" r="1.2" fill="#5b3a34"/><circle cx="115.5" cy="495" r="1.2" fill="#1f4727"/><circle cx="113.25" cy="486.75" r="1.2" fill="#1f4727"/><circle cx="133.25" cy="487" r="1.2" fill="#1f4727"/><circle cx="171.75" cy="489.5" r="1.2" fill="#1f4727"/><circle cx="151.75" cy="482.5" r="1.2" fill="#1f4727"/><circle cx="183.75" cy="492.5" r="1.2" fill="#1f4727"/><circle cx="100" cy="468" r="1.2" fill="#1f4727"/><circle cx="105" cy="479" r="1.2" fill="#1f4727"/><circle cx="140" cy="468" r="1.2" fill="#1f4727"/><circle cx="146" cy="480" r="1.2" fill="#1f4727"/><circle cx="165" cy="467" r="1.2" fill="#1f4727"/><circle cx="176" cy="480" r="1.2" fill="#1f4727"/><circle cx="50" cy="479" r="1.2" fill="#1f4727"/><circle cx="44" cy="468" r="1.2" fill="#1f4727"/><line x1="181.75" y1="423" x2="181.75" y2="526.1" stroke="#a88ac8" stroke-width="0.9" stroke-dasharray="1.4,1.1"/><line x1="186.75" y1="423" x2="186.75" y2="526.1" stroke="#7a7dc0" stroke-width="0.9" stroke-dasharray="1.4,1.1"/><rect x="16.5" y="421.5" width="178.9" height="106.1" fill="none" stroke="#8c8c8c" stroke-width="0.85"/><line x1="15" y1="428.7" x2="16.5" y2="428.7" stroke="#555" stroke-width="0.5"/><text x="14.2" y="430.5" font-size="3.4" text-anchor="end" fill="#000" stroke="#000" stroke-width="0.12">0.6</text><line x1="15" y1="443.8" x2="16.5" y2="443.8" stroke="#555" stroke-width="0.5"/><text x="14.2" y="445.6" font-size="3.4" text-anchor="end" fill="#000" stroke="#000" stroke-width="0.12">0.4</text><line x1="15" y1="458.9" x2="16.5" y2="458.9" stroke="#555" stroke-width="0.5"/><text x="14.2" y="460.7" font-size="3.4" text-anchor="end" fill="#000" stroke="#000" stroke-width="0.12">0.2</text><line x1="15" y1="474" x2="16.5" y2="474" stroke="#555" stroke-width="0.5"/><text x="14.2" y="475.8" font-size="3.4" text-anchor="end" fill="#000" stroke="#000" stroke-width="0.12">0.0</text><line x1="15" y1="489.1" x2="16.5" y2="489.1" stroke="#555" stroke-width="0.5"/><text x="14.2" y="490.9" font-size="3.4" text-anchor="end" fill="#000" stroke="#000" stroke-width="0.12">−0.2</text><line x1="15" y1="504.2" x2="16.5" y2="504.2" stroke="#555" stroke-width="0.5"/><text x="14.2" y="506" font-size="3.4" text-anchor="end" fill="#000" stroke="#000" stroke-width="0.12">−0.4</text><line x1="15" y1="519.3" x2="16.5" y2="519.3" stroke="#555" stroke-width="0.5"/><text x="14.2" y="521.1" font-size="3.4" text-anchor="end" fill="#000" stroke="#000" stroke-width="0.12">−0.6</text><text transform="translate(4.4,474.55) rotate(-90)" font-size="3.6" text-anchor="middle" fill="#000" stroke="#000" stroke-width="0.12">bid_volume</text><text x="105.95" y="419.5" font-size="4.4" text-anchor="middle" fill="#000" stroke="#000" stroke-width="0.1">FOR_2021-7-25 4:24</text><rect x="17.25" y="422.2" width="45" height="11" rx="0.8" fill="#fff" stroke="#d4d4d4" stroke-width="0.5"/><line x1="19.85" y1="425.5" x2="26.45" y2="425.5" stroke="#6a6a98" stroke-width="0.75" stroke-dasharray="1.7,0.9"/><line x1="19.85" y1="429.9" x2="26.45" y2="429.9" stroke="#d6d088" stroke-width="0.8"/><text x="28.85" y="426.6" font-size="3.4" fill="#000" stroke="#000" stroke-width="0.05">2021-7-25 4:24</text><text x="28.85" y="431" font-size="3.4" fill="#000" stroke="#000" stroke-width="0.05">anomalous volumes</text><path d="M24.5 527.6v1.5M28.25 527.6v1.5M32.5 527.6v1.5M43.25 527.6v1.5M51.25 527.6v1.5M58.75 527.6v1.5M73.75 527.6v1.5M84.25 527.6v1.5M96.25 527.6v1.5M104.5 527.6v1.5M112.5 527.6v1.5M118.75 527.6v1.5M125.75 527.6v1.5M133.25 527.6v1.5M140 527.6v1.5M144.5 527.6v1.5M147 527.6v1.5M153.25 527.6v1.5M162.5 527.6v1.5M165.5 527.6v1.5M170.75 527.6v1.5M173 527.6v1.5M177.5 527.6v1.5M180.5 527.6v1.5M183 527.6v1.5M186.25 527.6v1.5" stroke="#555" stroke-width="0.5"/><g font-size="4.1" fill="#222" stroke="#222" stroke-width="0.12"><text transform="translate(25.95,530.2) rotate(-90) scale(0.95,1)" text-anchor="end">14 19</text><text transform="translate(29.7,530.2) rotate(-90) scale(0.95,1)" text-anchor="end">28 23</text><text transform="translate(33.95,530.2) rotate(-90) scale(0.95,1)" text-anchor="end">20 12</text><text transform="translate(44.7,530.2) rotate(-90) scale(0.95,1)" text-anchor="end">28 08</text><text transform="translate(52.7,530.2) rotate(-90) scale(0.95,1)" text-anchor="end">22 07</text><text transform="translate(60.2,530.2) rotate(-90) scale(0.95,1)" text-anchor="end">10 06</text><text transform="translate(75.2,530.2) rotate(-90) scale(0.95,1)" text-anchor="end">13 03</text><text transform="translate(85.7,530.2) rotate(-90) scale(0.95,1)" text-anchor="end">27 01</text><text transform="translate(97.7,530.2) rotate(-90) scale(0.95,1)" text-anchor="end">25 01</text><text transform="translate(105.95,530.2) rotate(-90) scale(0.95,1)" text-anchor="end">23 17</text><text transform="translate(113.95,530.2) rotate(-90) scale(0.95,1)" text-anchor="end">20 10</text><text transform="translate(120.2,530.2) rotate(-90) scale(0.95,1)" text-anchor="end">24 20</text><text transform="translate(127.2,530.2) rotate(-90) scale(0.95,1)" text-anchor="end">26 08</text><text transform="translate(134.7,530.2) rotate(-90) scale(0.95,1)" text-anchor="end">18 08</text><text transform="translate(141.45,530.2) rotate(-90) scale(0.95,1)" text-anchor="end">10 13</text><text transform="translate(145.95,530.2) rotate(-90) scale(0.95,1)" text-anchor="end">21 04</text><text transform="translate(148.45,530.2) rotate(-90) scale(0.95,1)" text-anchor="end">25 17</text><text transform="translate(154.7,530.2) rotate(-90) scale(0.95,1)" text-anchor="end">19 07</text><text transform="translate(163.95,530.2) rotate(-90) scale(0.95,1)" text-anchor="end">13 05</text><text transform="translate(166.95,530.2) rotate(-90) scale(0.95,1)" text-anchor="end">24 16</text><text transform="translate(172.2,530.2) rotate(-90) scale(0.95,1)" text-anchor="end">24 03</text><text transform="translate(174.45,530.2) rotate(-90) scale(0.95,1)" text-anchor="end">12 18</text><text transform="translate(178.95,530.2) rotate(-90) scale(0.95,1)" text-anchor="end">26 13</text><text transform="translate(182.3,530.2) rotate(-90) scale(0.95,1)" text-anchor="end">20 04 26</text><text transform="translate(181.95,530.2) rotate(-90) scale(0.95,1)" text-anchor="end">21 06 33</text><text transform="translate(184.8,530.2) rotate(-90) scale(0.95,1)" text-anchor="end">14 22 47</text><text transform="translate(184.45,530.2) rotate(-90) scale(0.95,1)" text-anchor="end">13 16 31</text><text transform="translate(188.05,530.2) rotate(-90) scale(0.95,1)" text-anchor="end">15 08 39</text><text transform="translate(187.7,530.2) rotate(-90) scale(0.95,1)" text-anchor="end">23 06 25</text></g><text x="105.95" y="548.2" font-size="3.75" text-anchor="middle" fill="#000" stroke="#000" stroke-width="0.12">datetime</text></g>
<g><rect x="226" y="461" width="164" height="12" fill="#e6fbf8"/><rect x="239.25" y="435.75" width="7" height="31" fill="#ecfaf6"/><rect x="227.75" y="454.25" width="7" height="12.5" fill="#ecfaf6"/><rect x="265.5" y="456.5" width="7" height="10.25" fill="#ecfaf6"/><rect x="277.25" y="452.5" width="7" height="14.25" fill="#ecfaf6"/><rect x="354" y="451.25" width="7" height="15.5" fill="#ecfaf6"/><rect x="357.75" y="453" width="7" height="13.75" fill="#ecfaf6"/><rect x="366.75" y="456.25" width="7" height="10.5" fill="#ecfaf6"/><rect x="371" y="457.5" width="7" height="9.25" fill="#ecfaf6"/><rect x="227.75" y="466.75" width="7" height="21.25" fill="#ecfaf6"/><rect x="242.75" y="466.75" width="7" height="23.25" fill="#ecfaf6"/><rect x="282.75" y="466.75" width="7" height="34" fill="#ecfaf6"/><rect x="223" y="466.75" width="7" height="9.5" fill="#ecfaf6"/><rect x="247.25" y="466.75" width="7" height="13.25" fill="#ecfaf6"/><rect x="285.25" y="466.75" width="7" height="14.5" fill="#ecfaf6"/><rect x="308" y="466.75" width="7" height="17.5" fill="#ecfaf6"/><rect x="316.75" y="466.75" width="7" height="27.5" fill="#ecfaf6"/><rect x="351.5" y="466.75" width="7" height="13.25" fill="#ecfaf6"/><rect x="357.25" y="466.75" width="7" height="10.75" fill="#ecfaf6"/><rect x="326" y="466.75" width="7" height="8.75" fill="#ecfaf6"/><rect x="243.25" y="466.75" width="8" height="56.25" fill="#fdf1f4"/><line x1="226" y1="426.25" x2="390" y2="426.25" stroke="#e9e6b0" stroke-width="1.1" stroke-dasharray="1.7,0.8"/><line x1="226" y1="508.25" x2="390" y2="508.25" stroke="#e9e6b0" stroke-width="1.1" stroke-dasharray="1.7,0.8"/><line x1="243.25" y1="466.75" x2="243.25" y2="435.75" stroke="#4f8456" stroke-width="0.7"/><line x1="231.75" y1="466.75" x2="231.75" y2="454.25" stroke="#4f8456" stroke-width="0.7"/><line x1="269.5" y1="466.75" x2="269.5" y2="456.5" stroke="#4f8456" stroke-width="0.7"/><line x1="281.25" y1="466.75" x2="281.25" y2="452.5" stroke="#4f8456" stroke-width="0.7"/><line x1="248.75" y1="466.75" x2="248.75" y2="459.25" stroke="#4f8456" stroke-width="0.7"/><line x1="278" y1="466.75" x2="278" y2="459.25" stroke="#4f8456" stroke-width="0.7"/><line x1="290" y1="466.75" x2="290" y2="460.75" stroke="#4f8456" stroke-width="0.7"/><line x1="358" y1="466.75" x2="358" y2="451.25" stroke="#4f8456" stroke-width="0.7"/><line x1="361.75" y1="466.75" x2="361.75" y2="453" stroke="#4f8456" stroke-width="0.7"/><line x1="370.75" y1="466.75" x2="370.75" y2="456.25" stroke="#4f8456" stroke-width="0.7"/><line x1="375" y1="466.75" x2="375" y2="457.5" stroke="#4f8456" stroke-width="0.7"/><line x1="330" y1="466.75" x2="330" y2="461.25" stroke="#4f8456" stroke-width="0.7"/><line x1="248.25" y1="466.75" x2="248.25" y2="523" stroke="#b08a82" stroke-width="0.9"/><line x1="231.75" y1="466.75" x2="231.75" y2="488" stroke="#4f8456" stroke-width="0.7"/><line x1="246.75" y1="466.75" x2="246.75" y2="490" stroke="#4f8456" stroke-width="0.7"/><line x1="286.75" y1="466.75" x2="286.75" y2="500.75" stroke="#4f8456" stroke-width="0.7"/><line x1="227" y1="466.75" x2="227" y2="476.25" stroke="#4f8456" stroke-width="0.7"/><line x1="251.25" y1="466.75" x2="251.25" y2="480" stroke="#4f8456" stroke-width="0.7"/><line x1="289.25" y1="466.75" x2="289.25" y2="481.25" stroke="#4f8456" stroke-width="0.7"/><line x1="312" y1="466.75" x2="312" y2="484.25" stroke="#4f8456" stroke-width="0.7"/><line x1="320.75" y1="466.75" x2="320.75" y2="494.25" stroke="#4f8456" stroke-width="0.7"/><line x1="355.5" y1="466.75" x2="355.5" y2="480" stroke="#4f8456" stroke-width="0.7"/><line x1="361.25" y1="466.75" x2="361.25" y2="477.5" stroke="#4f8456" stroke-width="0.7"/><line x1="330" y1="466.75" x2="330" y2="475.5" stroke="#4f8456" stroke-width="0.7"/><line x1="236" y1="466.75" x2="236" y2="461" stroke="#4f8456" stroke-width="0.7"/><line x1="258" y1="466.75" x2="258" y2="472" stroke="#4f8456" stroke-width="0.7"/><line x1="263" y1="466.75" x2="263" y2="461" stroke="#4f8456" stroke-width="0.7"/><line x1="300" y1="466.75" x2="300" y2="472" stroke="#4f8456" stroke-width="0.7"/><line x1="306" y1="466.75" x2="306" y2="461" stroke="#4f8456" stroke-width="0.7"/><line x1="318" y1="466.75" x2="318" y2="461" stroke="#4f8456" stroke-width="0.7"/><line x1="340" y1="466.75" x2="340" y2="473" stroke="#4f8456" stroke-width="0.7"/><line x1="346" y1="466.75" x2="346" y2="461" stroke="#4f8456" stroke-width="0.7"/><line x1="367" y1="466.75" x2="367" y2="474" stroke="#4f8456" stroke-width="0.7"/><line x1="384" y1="466.75" x2="384" y2="461" stroke="#4f8456" stroke-width="0.7"/><line x1="226" y1="466.75" x2="390" y2="466.75" stroke="#2f7138" stroke-width="3"/><polyline fill="none" stroke="#2f7138" stroke-width="0.9" stroke-linejoin="round" points="226,467.05 227.8,466.71 229.6,466.59 231.41,465.73 233.21,467.61 235.01,466.42 236.81,467.21 238.62,466.49 240.42,467.68 242.22,466.72 244.02,467.09 245.82,467.51 247.63,466.59 249.43,466.58 251.23,466.65 253.03,466.84 254.84,467.25 256.64,466.98 258.44,466.84 260.24,467.47 262.04,466.91 263.85,465.83 265.65,467.95 267.45,465.25 269.25,468.48 271.05,465.41 272.86,465.56 274.66,466.13 276.46,467.58 278.26,465.99 280.07,467.43 281.87,467.6 283.67,466.19 285.47,466.64 287.27,467.23 289.08,467.07 290.88,466.22 292.68,465.19 294.48,466.22 296.29,465.96 298.09,466.83 299.89,466.76 301.69,466.13 303.49,465.84 305.3,466.22 307.1,466.9 308.9,467.16 310.7,467.15 312.51,467.59 314.31,467.63 316.11,466.35 317.91,467.82 319.71,465.73 321.52,467.24 323.32,466.69 325.12,465.18 326.92,468.09 328.73,468.59 330.53,467.76 332.33,465.42 334.13,464.63 335.93,467.4 337.74,467 339.54,466.14 341.34,466.07 343.14,465.14 344.95,466.79 346.75,464.82 348.55,465.43 350.35,466.51 352.15,467.93 353.96,467.36 355.76,467.63 357.56,467.9 359.36,467.46 361.16,466.25 362.97,466.99 364.77,466.86 366.57,466.23 368.37,466.7 370.18,466.67 371.98,465.52 373.78,465.41 375.58,466.75 377.38,467.33 379.19,467.56 380.99,467.84 382.79,467.07 384.59,466.89 386.4,466.25 388.2,465.66 390,464.41"/><path d="M234.63 466.75V468.96M241.97 466.75V464.44M269.4 466.75V469.55M272.44 466.75V473.18M282.22 466.75V463.25M286.54 466.75V469.26M289.62 466.75V462.87M294.24 466.75V459.97M319.18 466.75V461.26M325.41 466.75V468.79M345.99 466.75V464.43M350.72 466.75V455.57M376.05 466.75V468.98M389.8 466.75V470.9" stroke="#4f8456" stroke-width="0.6" fill="none"/><g fill="#1f4727"><circle cx="226" cy="467.05" r="1"/><circle cx="227.8" cy="466.71" r="1"/><circle cx="229.6" cy="466.59" r="1"/><circle cx="231.41" cy="465.73" r="1"/><circle cx="233.21" cy="467.61" r="1"/><circle cx="235.01" cy="466.42" r="1"/><circle cx="236.81" cy="467.21" r="1"/><circle cx="238.62" cy="466.49" r="1"/><circle cx="240.42" cy="467.68" r="1"/><circle cx="242.22" cy="466.72" r="1"/><circle cx="244.02" cy="467.09" r="1"/><circle cx="245.82" cy="467.51" r="1"/><circle cx="247.63" cy="466.59" r="1"/><circle cx="249.43" cy="466.58" r="1"/><circle cx="251.23" cy="466.65" r="1"/><circle cx="253.03" cy="466.84" r="1"/><circle cx="254.84" cy="467.25" r="1"/><circle cx="256.64" cy="466.98" r="1"/><circle cx="258.44" cy="466.84" r="1"/><circle cx="260.24" cy="467.47" r="1"/><circle cx="262.04" cy="466.91" r="1"/><circle cx="263.85" cy="465.83" r="1"/><circle cx="265.65" cy="467.95" r="1"/><circle cx="267.45" cy="465.25" r="1"/><circle cx="269.25" cy="468.48" r="1"/><circle cx="271.05" cy="465.41" r="1"/><circle cx="272.86" cy="465.56" r="1"/><circle cx="274.66" cy="466.13" r="1"/><circle cx="276.46" cy="467.58" r="1"/><circle cx="278.26" cy="465.99" r="1"/><circle cx="280.07" cy="467.43" r="1"/><circle cx="281.87" cy="467.6" r="1"/><circle cx="283.67" cy="466.19" r="1"/><circle cx="285.47" cy="466.64" r="1"/><circle cx="287.27" cy="467.23" r="1"/><circle cx="289.08" cy="467.07" r="1"/><circle cx="290.88" cy="466.22" r="1"/><circle cx="292.68" cy="465.19" r="1"/><circle cx="294.48" cy="466.22" r="1"/><circle cx="296.29" cy="465.96" r="1"/><circle cx="298.09" cy="466.83" r="1"/><circle cx="299.89" cy="466.76" r="1"/><circle cx="301.69" cy="466.13" r="1"/><circle cx="303.49" cy="465.84" r="1"/><circle cx="305.3" cy="466.22" r="1"/><circle cx="307.1" cy="466.9" r="1"/><circle cx="308.9" cy="467.16" r="1"/><circle cx="310.7" cy="467.15" r="1"/><circle cx="312.51" cy="467.59" r="1"/><circle cx="314.31" cy="467.63" r="1"/><circle cx="316.11" cy="466.35" r="1"/><circle cx="317.91" cy="467.82" r="1"/><circle cx="319.71" cy="465.73" r="1"/><circle cx="321.52" cy="467.24" r="1"/><circle cx="323.32" cy="466.69" r="1"/><circle cx="325.12" cy="465.18" r="1"/><circle cx="326.92" cy="468.09" r="1"/><circle cx="328.73" cy="468.59" r="1"/><circle cx="330.53" cy="467.76" r="1"/><circle cx="332.33" cy="465.42" r="1"/><circle cx="334.13" cy="464.63" r="1"/><circle cx="335.93" cy="467.4" r="1"/><circle cx="337.74" cy="467" r="1"/><circle cx="339.54" cy="466.14" r="1"/><circle cx="341.34" cy="466.07" r="1"/><circle cx="343.14" cy="465.14" r="1"/><circle cx="344.95" cy="466.79" r="1"/><circle cx="346.75" cy="464.82" r="1"/><circle cx="348.55" cy="465.43" r="1"/><circle cx="350.35" cy="466.51" r="1"/><circle cx="352.15" cy="467.93" r="1"/><circle cx="353.96" cy="467.36" r="1"/><circle cx="355.76" cy="467.63" r="1"/><circle cx="357.56" cy="467.9" r="1"/><circle cx="359.36" cy="467.46" r="1"/><circle cx="361.16" cy="466.25" r="1"/><circle cx="362.97" cy="466.99" r="1"/><circle cx="364.77" cy="466.86" r="1"/><circle cx="366.57" cy="466.23" r="1"/><circle cx="368.37" cy="466.7" r="1"/><circle cx="370.18" cy="466.67" r="1"/><circle cx="371.98" cy="465.52" r="1"/><circle cx="373.78" cy="465.41" r="1"/><circle cx="375.58" cy="466.75" r="1"/><circle cx="377.38" cy="467.33" r="1"/><circle cx="379.19" cy="467.56" r="1"/><circle cx="380.99" cy="467.84" r="1"/><circle cx="382.79" cy="467.07" r="1"/><circle cx="384.59" cy="466.89" r="1"/><circle cx="386.4" cy="466.25" r="1"/><circle cx="388.2" cy="465.66" r="1"/><circle cx="390" cy="464.41" r="1"/><circle cx="234.63" cy="468.96" r="0.85"/><circle cx="241.97" cy="464.44" r="0.85"/><circle cx="269.4" cy="469.55" r="0.85"/><circle cx="272.44" cy="473.18" r="0.85"/><circle cx="282.22" cy="463.25" r="0.85"/><circle cx="286.54" cy="469.26" r="0.85"/><circle cx="289.62" cy="462.87" r="0.85"/><circle cx="294.24" cy="459.97" r="0.85"/><circle cx="319.18" cy="461.26" r="0.85"/><circle cx="325.41" cy="468.79" r="0.85"/><circle cx="345.99" cy="464.43" r="0.85"/><circle cx="350.72" cy="455.57" r="0.85"/><circle cx="376.05" cy="468.98" r="0.85"/><circle cx="389.8" cy="470.9" r="0.85"/></g><circle cx="243.25" cy="435.75" r="1.2" fill="#1f4727"/><circle cx="231.75" cy="454.25" r="1.2" fill="#1f4727"/><circle cx="269.5" cy="456.5" r="1.2" fill="#1f4727"/><circle cx="281.25" cy="452.5" r="1.2" fill="#1f4727"/><circle cx="248.75" cy="459.25" r="1.2" fill="#1f4727"/><circle cx="278" cy="459.25" r="1.2" fill="#1f4727"/><circle cx="290" cy="460.75" r="1.2" fill="#1f4727"/><circle cx="358" cy="451.25" r="1.2" fill="#1f4727"/><circle cx="361.75" cy="453" r="1.2" fill="#1f4727"/><circle cx="370.75" cy="456.25" r="1.2" fill="#1f4727"/><circle cx="375" cy="457.5" r="1.2" fill="#1f4727"/><circle cx="330" cy="461.25" r="1.2" fill="#1f4727"/><circle cx="248.25" cy="523" r="1.2" fill="#5b3a34"/><circle cx="231.75" cy="488" r="1.2" fill="#1f4727"/><circle cx="246.75" cy="490" r="1.2" fill="#1f4727"/><circle cx="286.75" cy="500.75" r="1.2" fill="#1f4727"/><circle cx="227" cy="476.25" r="1.2" fill="#1f4727"/><circle cx="251.25" cy="480" r="1.2" fill="#1f4727"/><circle cx="289.25" cy="481.25" r="1.2" fill="#1f4727"/><circle cx="312" cy="484.25" r="1.2" fill="#1f4727"/><circle cx="320.75" cy="494.25" r="1.2" fill="#1f4727"/><circle cx="355.5" cy="480" r="1.2" fill="#1f4727"/><circle cx="361.25" cy="477.5" r="1.2" fill="#1f4727"/><circle cx="330" cy="475.5" r="1.2" fill="#1f4727"/><circle cx="236" cy="461" r="1.2" fill="#1f4727"/><circle cx="258" cy="472" r="1.2" fill="#1f4727"/><circle cx="263" cy="461" r="1.2" fill="#1f4727"/><circle cx="300" cy="472" r="1.2" fill="#1f4727"/><circle cx="306" cy="461" r="1.2" fill="#1f4727"/><circle cx="318" cy="461" r="1.2" fill="#1f4727"/><circle cx="340" cy="473" r="1.2" fill="#1f4727"/><circle cx="346" cy="461" r="1.2" fill="#1f4727"/><circle cx="367" cy="474" r="1.2" fill="#1f4727"/><circle cx="384" cy="461" r="1.2" fill="#1f4727"/><line x1="382" y1="423.1" x2="382" y2="526" stroke="#7a7dc0" stroke-width="0.9" stroke-dasharray="1.4,1.1"/><line x1="388.75" y1="423.1" x2="388.75" y2="526" stroke="#7a7dc0" stroke-width="0.9" stroke-dasharray="1.4,1.1"/><rect x="218.7" y="421.6" width="178.8" height="105.9" fill="none" stroke="#8c8c8c" stroke-width="0.85"/><line x1="217.2" y1="427.07" x2="218.7" y2="427.07" stroke="#555" stroke-width="0.5"/><text x="216.4" y="428.88" font-size="3.4" text-anchor="end" fill="#000" stroke="#000" stroke-width="0.12">0.75</text><line x1="217.2" y1="440.3" x2="218.7" y2="440.3" stroke="#555" stroke-width="0.5"/><text x="216.4" y="442.1" font-size="3.4" text-anchor="end" fill="#000" stroke="#000" stroke-width="0.12">0.50</text><line x1="217.2" y1="453.52" x2="218.7" y2="453.52" stroke="#555" stroke-width="0.5"/><text x="216.4" y="455.32" font-size="3.4" text-anchor="end" fill="#000" stroke="#000" stroke-width="0.12">0.25</text><line x1="217.2" y1="466.75" x2="218.7" y2="466.75" stroke="#555" stroke-width="0.5"/><text x="216.4" y="468.55" font-size="3.4" text-anchor="end" fill="#000" stroke="#000" stroke-width="0.12">0.00</text><line x1="217.2" y1="479.98" x2="218.7" y2="479.98" stroke="#555" stroke-width="0.5"/><text x="216.4" y="481.78" font-size="3.4" text-anchor="end" fill="#000" stroke="#000" stroke-width="0.12">−0.25</text><line x1="217.2" y1="493.2" x2="218.7" y2="493.2" stroke="#555" stroke-width="0.5"/><text x="216.4" y="495" font-size="3.4" text-anchor="end" fill="#000" stroke="#000" stroke-width="0.12">−0.50</text><line x1="217.2" y1="506.43" x2="218.7" y2="506.43" stroke="#555" stroke-width="0.5"/><text x="216.4" y="508.23" font-size="3.4" text-anchor="end" fill="#000" stroke="#000" stroke-width="0.12">−0.75</text><line x1="217.2" y1="519.65" x2="218.7" y2="519.65" stroke="#555" stroke-width="0.5"/><text x="216.4" y="521.45" font-size="3.4" text-anchor="end" fill="#000" stroke="#000" stroke-width="0.12">−1.00</text><text transform="translate(204.9,474.55) rotate(-90)" font-size="3.6" text-anchor="middle" fill="#000" stroke="#000" stroke-width="0.12">bid_volume</text><text x="308.1" y="419.6" font-size="4.4" text-anchor="middle" fill="#000" stroke="#000" stroke-width="0.1">FOR_2021-8-17 12:03</text><rect x="351.9" y="422.3" width="45" height="11" rx="0.8" fill="#fff" stroke="#d4d4d4" stroke-width="0.5"/><line x1="354.5" y1="425.6" x2="361.1" y2="425.6" stroke="#6a6a98" stroke-width="0.75" stroke-dasharray="1.7,0.9"/><line x1="354.5" y1="430" x2="361.1" y2="430" stroke="#d6d088" stroke-width="0.8"/><text x="363.5" y="426.7" font-size="3.4" fill="#000" stroke="#000" stroke-width="0.05">2021-8-17 12:03</text><text x="363.5" y="431.1" font-size="3.4" fill="#000" stroke="#000" stroke-width="0.05">anomalous volumes</text><path d="M226.25 527.5v1.5M238.25 527.5v1.5M247.5 527.5v1.5M256.25 527.5v1.5M262 527.5v1.5M268 527.5v1.5M274.5 527.5v1.5M281.25 527.5v1.5M287.5 527.5v1.5M293.25 527.5v1.5M297.5 527.5v1.5M301.25 527.5v1.5M304.5 527.5v1.5M309.5 527.5v1.5M319.5 527.5v1.5M328.25 527.5v1.5M335.75 527.5v1.5M343.75 527.5v1.5M347.5 527.5v1.5M351.25 527.5v1.5M356.25 527.5v1.5M364.5 527.5v1.5M367 527.5v1.5M374.5 527.5v1.5M381.25 527.5v1.5M388.75 527.5v1.5" stroke="#555" stroke-width="0.5"/><g font-size="4.1" fill="#222" stroke="#222" stroke-width="0.12"><text transform="translate(227.7,530.1) rotate(-90) scale(0.95,1)" text-anchor="end">20 06</text><text transform="translate(239.7,530.1) rotate(-90) scale(0.95,1)" text-anchor="end">12 13</text><text transform="translate(248.95,530.1) rotate(-90) scale(0.95,1)" text-anchor="end">27 12</text><text transform="translate(257.7,530.1) rotate(-90) scale(0.95,1)" text-anchor="end">24 20</text><text transform="translate(263.45,530.1) rotate(-90) scale(0.95,1)" text-anchor="end">24 22</text><text transform="translate(269.45,530.1) rotate(-90) scale(0.95,1)" text-anchor="end">12 22</text><text transform="translate(275.95,530.1) rotate(-90) scale(0.95,1)" text-anchor="end">25 15</text><text transform="translate(282.7,530.1) rotate(-90) scale(0.95,1)" text-anchor="end">22 07</text><text transform="translate(288.95,530.1) rotate(-90) scale(0.95,1)" text-anchor="end">23 03</text><text transform="translate(294.7,530.1) rotate(-90) scale(0.95,1)" text-anchor="end">23 02</text><text transform="translate(298.95,530.1) rotate(-90) scale(0.95,1)" text-anchor="end">19 18</text><text transform="translate(302.7,530.1) rotate(-90) scale(0.95,1)" text-anchor="end">19 22</text><text transform="translate(305.95,530.1) rotate(-90) scale(0.95,1)" text-anchor="end">26 17</text><text transform="translate(310.95,530.1) rotate(-90) scale(0.95,1)" text-anchor="end">13 17</text><text transform="translate(320.95,530.1) rotate(-90) scale(0.95,1)" text-anchor="end">20 12</text><text transform="translate(329.7,530.1) rotate(-90) scale(0.95,1)" text-anchor="end">23 08</text><text transform="translate(337.2,530.1) rotate(-90) scale(0.95,1)" text-anchor="end">15 20</text><text transform="translate(345.2,530.1) rotate(-90) scale(0.95,1)" text-anchor="end">27 16</text><text transform="translate(348.95,530.1) rotate(-90) scale(0.95,1)" text-anchor="end">18 23</text><text transform="translate(352.7,530.1) rotate(-90) scale(0.95,1)" text-anchor="end">10 22</text><text transform="translate(357.7,530.1) rotate(-90) scale(0.95,1)" text-anchor="end">24 05</text><text transform="translate(365.95,530.1) rotate(-90) scale(0.95,1)" text-anchor="end">25 14</text><text transform="translate(368.45,530.1) rotate(-90) scale(0.95,1)" text-anchor="end">15 10</text><text transform="translate(375.95,530.1) rotate(-90) scale(0.95,1)" text-anchor="end">16 12</text><text transform="translate(383.05,530.1) rotate(-90) scale(0.95,1)" text-anchor="end">18 15 06</text><text transform="translate(382.7,530.1) rotate(-90) scale(0.95,1)" text-anchor="end">25 17 34</text><text transform="translate(390.55,530.1) rotate(-90) scale(0.95,1)" text-anchor="end">23 00 36</text><text transform="translate(390.2,530.1) rotate(-90) scale(0.95,1)" text-anchor="end">13 10 26</text></g><text x="308.1" y="548.1" font-size="3.75" text-anchor="middle" fill="#000" stroke="#000" stroke-width="0.12">datetime</text></g>
</svg></body></html>
